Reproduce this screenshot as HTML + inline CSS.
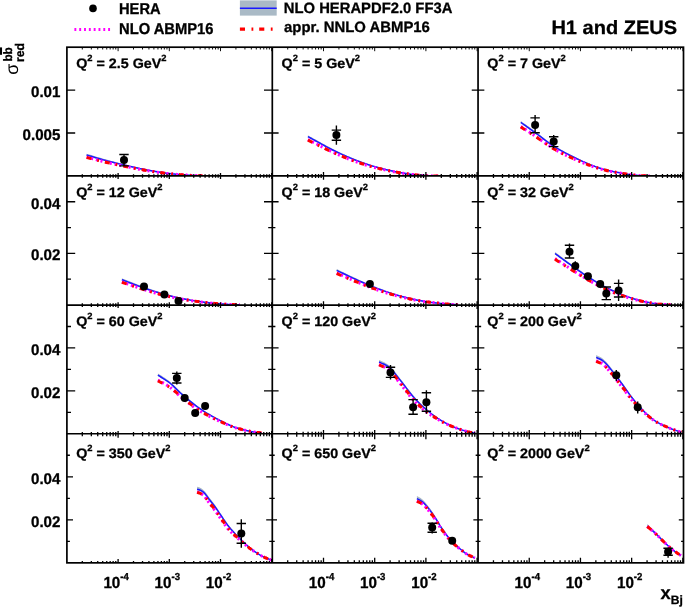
<!DOCTYPE html>
<html><head><meta charset="utf-8"><title>H1 and ZEUS</title>
<style>html,body{margin:0;padding:0;background:#fff;}svg{display:block;will-change:transform;transform:translateZ(0);}text{font-family:"Liberation Sans",sans-serif;font-weight:bold;fill:#000;text-rendering:geometricPrecision;stroke:#000;stroke-width:0.3px;}</style>
</head><body>
<svg width="685" height="609" viewBox="0 0 685 609">
<rect width="685" height="609" fill="#fff"/>
<clipPath id="cp00"><rect x="66.9" y="47.2" width="205.4" height="128.7"/></clipPath>
<clipPath id="cp01"><rect x="272.3" y="47.2" width="205.75" height="128.7"/></clipPath>
<clipPath id="cp02"><rect x="478.05" y="47.2" width="205.45" height="128.7"/></clipPath>
<clipPath id="cp10"><rect x="66.9" y="175.9" width="205.4" height="129.15"/></clipPath>
<clipPath id="cp11"><rect x="272.3" y="175.9" width="205.75" height="129.15"/></clipPath>
<clipPath id="cp12"><rect x="478.05" y="175.9" width="205.45" height="129.15"/></clipPath>
<clipPath id="cp20"><rect x="66.9" y="305.05" width="205.4" height="128.7"/></clipPath>
<clipPath id="cp21"><rect x="272.3" y="305.05" width="205.75" height="128.7"/></clipPath>
<clipPath id="cp22"><rect x="478.05" y="305.05" width="205.45" height="128.7"/></clipPath>
<clipPath id="cp30"><rect x="66.9" y="433.75" width="205.4" height="129.1"/></clipPath>
<clipPath id="cp31"><rect x="272.3" y="433.75" width="205.75" height="129.1"/></clipPath>
<clipPath id="cp32"><rect x="478.05" y="433.75" width="205.45" height="129.1"/></clipPath>
<g clip-path="url(#cp00)">
<path d="M86.6 153.7 L88.13 154.16 L89.67 154.62 L91.2 155.09 L92.73 155.55 L94.27 156.02 L95.8 156.48 L97.33 156.95 L98.87 157.4 L100.4 157.86 L101.93 158.31 L103.47 158.74 L105 159.17 L106.58 159.61 L108.17 160.04 L109.75 160.46 L111.33 160.88 L112.92 161.29 L114.5 161.7 L116.08 162.1 L117.67 162.5 L119.25 162.89 L120.83 163.28 L122.42 163.67 L124 164.05 L125.5 164.42 L127 164.78 L128.5 165.14 L130 165.5 L131.5 165.85 L133 166.21 L134.5 166.55 L136 166.9 L137.5 167.24 L139 167.57 L140.5 167.9 L142 168.23 L143.5 168.54 L145 168.85 L146.54 169.16 L148.08 169.47 L149.62 169.78 L151.15 170.08 L152.69 170.37 L154.23 170.65 L155.77 170.94 L157.31 171.21 L158.85 171.47 L160.38 171.73 L161.92 171.98 L163.46 172.21 L165 172.44 L166.54 172.66 L168.08 172.87 L169.62 173.06 L171.15 173.25 L172.69 173.42 L174.23 173.57 L175.77 173.72 L177.31 173.87 L178.85 174 L180.38 174.14 L181.92 174.26 L183.46 174.38 L185 174.5 L186.54 174.61 L188.08 174.71 L189.62 174.8 L191.15 174.88 L192.69 174.96 L194.23 175.03 L195.77 175.1 L197.31 175.16 L198.85 175.23 L200.38 175.29 L201.92 175.36 L203.46 175.43 L205 175.5 L205 176.5 L203.46 176.43 L201.92 176.36 L200.38 176.29 L198.85 176.23 L197.31 176.16 L195.77 176.1 L194.23 176.03 L192.69 175.96 L191.15 175.88 L189.62 175.8 L188.08 175.71 L186.54 175.61 L185 175.5 L183.46 175.38 L181.92 175.26 L180.38 175.14 L178.85 175 L177.31 174.87 L175.77 174.72 L174.23 174.57 L172.69 174.42 L171.15 174.25 L169.62 174.08 L168.08 173.91 L166.54 173.72 L165 173.52 L163.46 173.31 L161.92 173.09 L160.38 172.87 L158.85 172.63 L157.31 172.38 L155.77 172.13 L154.23 171.87 L152.69 171.6 L151.15 171.33 L149.62 171.05 L148.08 170.77 L146.54 170.48 L145 170.19 L143.5 169.9 L142 169.6 L140.5 169.29 L139 168.98 L137.5 168.67 L136 168.35 L134.5 168.02 L133 167.69 L131.5 167.36 L130 167.02 L128.5 166.68 L127 166.34 L125.5 166 L124 165.66 L122.42 165.29 L120.83 164.92 L119.25 164.55 L117.67 164.18 L116.08 163.8 L114.5 163.42 L112.92 163.03 L111.33 162.64 L109.75 162.25 L108.17 161.84 L106.58 161.43 L105 161.02 L103.47 160.61 L101.93 160.19 L100.4 159.76 L98.87 159.33 L97.33 158.89 L95.8 158.45 L94.27 158 L92.73 157.55 L91.2 157.11 L89.67 156.66 L88.13 156.22 L86.6 155.78 Z" fill="#a9b9c6"/>
<path d="M86.6 155 L88.13 155.44 L89.67 155.89 L91.2 156.34 L92.73 156.79 L94.27 157.25 L95.8 157.7 L97.33 158.14 L98.87 158.59 L100.4 159.03 L101.93 159.46 L103.47 159.88 L105 160.3 L106.58 160.72 L108.17 161.13 L109.75 161.54 L111.33 161.94 L112.92 162.34 L114.5 162.73 L116.08 163.12 L117.67 163.5 L119.25 163.88 L120.83 164.26 L122.42 164.63 L124 165 L125.5 165.35 L127 165.7 L128.5 166.04 L130 166.39 L131.5 166.73 L133 167.07 L134.5 167.4 L136 167.73 L137.5 168.06 L139 168.38 L140.5 168.69 L142 169 L143.5 169.3 L145 169.6 L146.54 169.9 L148.08 170.19 L149.62 170.48 L151.15 170.76 L152.69 171.04 L154.23 171.32 L155.77 171.58 L157.31 171.84 L158.85 172.09 L160.38 172.33 L161.92 172.56 L163.46 172.79 L165 173 L166.54 173.2 L168.08 173.39 L169.62 173.58 L171.15 173.75 L172.69 173.92 L174.23 174.07 L175.77 174.22 L177.31 174.37 L178.85 174.5 L180.38 174.64 L181.92 174.76 L183.46 174.88 L185 175 L186.54 175.11 L188.08 175.21 L189.62 175.3 L191.15 175.38 L192.69 175.46 L194.23 175.53 L195.77 175.6 L197.31 175.66 L198.85 175.73 L200.38 175.79 L201.92 175.86 L203.46 175.93 L205 176" fill="none" stroke="#1a1aff" stroke-width="1.5"/>
<path d="M86.6 157.12 L88.13 157.53 L89.67 157.94 L91.2 158.35 L92.73 158.76 L94.27 159.17 L95.8 159.58 L97.33 159.99 L98.87 160.39 L100.4 160.79 L101.93 161.18 L103.47 161.56 L105 161.94 L106.58 162.32 L108.17 162.69 L109.75 163.06 L111.33 163.42 L112.92 163.77 L114.5 164.13 L116.08 164.47 L117.67 164.81 L119.25 165.15 L120.83 165.49 L122.42 165.82 L124 166.15 L125.5 166.46 L127 166.77 L128.5 167.08 L130 167.39 L131.5 167.69 L133 167.99 L134.5 168.29 L136 168.59 L137.5 168.88 L139 169.17 L140.5 169.45 L142 169.72 L143.5 169.99 L145 170.26 L146.54 170.52 L148.08 170.78 L149.62 171.03 L151.15 171.28 L152.69 171.53 L154.23 171.77 L155.77 172 L157.31 172.22 L158.85 172.45 L160.38 172.66 L161.92 172.87 L163.46 173.07 L165 173.26 L166.54 173.44 L168.08 173.6 L169.62 173.76 L171.15 173.91 L172.69 174.05 L174.23 174.19 L175.77 174.31 L177.31 174.43 L178.85 174.54 L180.38 174.65 L181.92 174.76 L183.46 174.88 L185 175 L186.54 175.11 L188.08 175.21 L189.62 175.3 L191.15 175.38 L192.69 175.46 L194.23 175.53 L195.77 175.6 L197.31 175.66 L198.85 175.73 L200.38 175.79 L201.92 175.86 L203.46 175.93 L205 176" fill="none" stroke="#ff00ff" stroke-width="3" stroke-dasharray="2 2.8"/>
<path d="M86.6 157.5 L88.13 157.88 L89.67 158.27 L91.2 158.66 L92.73 159.05 L94.27 159.44 L95.8 159.83 L97.33 160.21 L98.87 160.6 L100.4 160.97 L101.93 161.34 L103.47 161.71 L105 162.06 L106.58 162.42 L108.17 162.77 L109.75 163.11 L111.33 163.46 L112.92 163.81 L114.5 164.15 L116.08 164.49 L117.67 164.83 L119.25 165.16 L120.83 165.48 L122.42 165.81 L124 166.13 L125.5 166.43 L127 166.74 L128.5 167.04 L130 167.33 L131.5 167.63 L133 167.92 L134.5 168.21 L136 168.51 L137.5 168.8 L139 169.09 L140.5 169.37 L142 169.65 L143.5 169.92 L145 170.18 L146.54 170.44 L148.08 170.7 L149.62 170.96 L151.15 171.21 L152.69 171.45 L154.23 171.69 L155.77 171.92 L157.31 172.15 L158.85 172.37 L160.38 172.6 L161.92 172.81 L163.46 173.01 L165 173.21 L166.54 173.39 L168.08 173.56 L169.62 173.73 L171.15 173.88 L172.69 174.03 L174.23 174.16 L175.77 174.29 L177.31 174.42 L178.85 174.54 L180.38 174.65 L181.92 174.76 L183.46 174.88 L185 175 L186.54 175.11 L188.08 175.21 L189.62 175.3 L191.15 175.38 L192.69 175.46 L194.23 175.53 L195.77 175.6 L197.31 175.66 L198.85 175.73 L200.38 175.79 L201.92 175.86 L203.46 175.93 L205 176" fill="none" stroke="#ff0000" stroke-width="3" stroke-dasharray="5 6 1.8 6"/>
</g>
<g clip-path="url(#cp01)">
<path d="M307.9 135.3 L309.42 136.13 L310.94 136.96 L312.46 137.81 L313.98 138.65 L315.51 139.5 L317.03 140.36 L318.55 141.21 L320.07 142.06 L321.59 142.91 L323.11 143.76 L324.63 144.6 L326.15 145.43 L327.67 146.25 L329.19 147.07 L330.72 147.87 L332.24 148.66 L333.76 149.44 L335.28 150.2 L336.8 150.95 L338.34 151.68 L339.88 152.41 L341.42 153.13 L342.96 153.85 L344.51 154.55 L346.05 155.23 L347.59 155.91 L349.13 156.58 L350.67 157.24 L352.21 157.88 L353.75 158.52 L355.29 159.14 L356.84 159.75 L358.38 160.35 L359.92 160.93 L361.46 161.51 L363 162.07 L364.55 162.62 L366.09 163.15 L367.64 163.67 L369.19 164.18 L370.74 164.68 L372.28 165.16 L373.83 165.64 L375.38 166.1 L376.92 166.55 L378.47 166.99 L380.02 167.41 L381.56 167.83 L383.11 168.24 L384.66 168.64 L386.21 169.03 L387.75 169.42 L389.3 169.79 L390.81 170.15 L392.33 170.49 L393.84 170.81 L395.35 171.13 L396.87 171.43 L398.38 171.73 L399.89 172.01 L401.41 172.28 L402.92 172.54 L404.43 172.79 L405.95 173.02 L407.46 173.25 L408.97 173.47 L410.49 173.69 L412 173.9 L413.57 174.11 L415.14 174.3 L416.71 174.47 L418.29 174.62 L419.86 174.76 L421.43 174.89 L423 175 L424.55 175.1 L426.09 175.18 L427.64 175.24 L429.18 175.3 L430.73 175.35 L432.27 175.39 L433.82 175.43 L435.36 175.47 L436.91 175.51 L438.45 175.55 L440 175.6 L440 176.6 L438.45 176.55 L436.91 176.51 L435.36 176.47 L433.82 176.43 L432.27 176.39 L430.73 176.35 L429.18 176.3 L427.64 176.24 L426.09 176.18 L424.55 176.1 L423 176 L421.43 175.89 L419.86 175.76 L418.29 175.62 L416.71 175.47 L415.14 175.3 L413.57 175.11 L412 174.9 L410.49 174.69 L408.97 174.47 L407.46 174.25 L405.95 174.02 L404.43 173.79 L402.92 173.54 L401.41 173.29 L399.89 173.04 L398.38 172.77 L396.87 172.5 L395.35 172.21 L393.84 171.91 L392.33 171.6 L390.81 171.28 L389.3 170.94 L387.75 170.58 L386.21 170.22 L384.66 169.84 L383.11 169.46 L381.56 169.07 L380.02 168.67 L378.47 168.26 L376.92 167.84 L375.38 167.4 L373.83 166.96 L372.28 166.51 L370.74 166.04 L369.19 165.56 L367.64 165.07 L366.09 164.56 L364.55 164.05 L363 163.52 L361.46 162.97 L359.92 162.42 L358.38 161.85 L356.84 161.27 L355.29 160.68 L353.75 160.07 L352.21 159.46 L350.67 158.83 L349.13 158.19 L347.59 157.54 L346.05 156.88 L344.51 156.21 L342.96 155.52 L341.42 154.83 L339.88 154.13 L338.34 153.42 L336.8 152.69 L335.28 151.97 L333.76 151.22 L332.24 150.47 L330.72 149.69 L329.19 148.91 L327.67 148.11 L326.15 147.3 L324.63 146.48 L323.11 145.66 L321.59 144.83 L320.07 144 L318.55 143.17 L317.03 142.33 L315.51 141.5 L313.98 140.66 L312.46 139.83 L310.94 139.01 L309.42 138.19 L307.9 137.38 Z" fill="#a9b9c6"/>
<path d="M307.9 136.6 L309.42 137.41 L310.94 138.24 L312.46 139.07 L313.98 139.9 L315.51 140.74 L317.03 141.58 L318.55 142.42 L320.07 143.26 L321.59 144.09 L323.11 144.93 L324.63 145.75 L326.15 146.57 L327.67 147.39 L329.19 148.19 L330.72 148.98 L332.24 149.76 L333.76 150.52 L335.28 151.27 L336.8 152 L338.34 152.73 L339.88 153.44 L341.42 154.15 L342.96 154.85 L344.51 155.53 L346.05 156.21 L347.59 156.88 L349.13 157.53 L350.67 158.18 L352.21 158.81 L353.75 159.43 L355.29 160.04 L356.84 160.64 L358.38 161.22 L359.92 161.79 L361.46 162.35 L363 162.9 L364.55 163.44 L366.09 163.96 L367.64 164.47 L369.19 164.96 L370.74 165.45 L372.28 165.92 L373.83 166.38 L375.38 166.82 L376.92 167.26 L378.47 167.69 L380.02 168.1 L381.56 168.51 L383.11 168.91 L384.66 169.29 L386.21 169.67 L387.75 170.04 L389.3 170.4 L390.81 170.74 L392.33 171.07 L393.84 171.39 L395.35 171.69 L396.87 171.98 L398.38 172.26 L399.89 172.53 L401.41 172.79 L402.92 173.04 L404.43 173.29 L405.95 173.52 L407.46 173.75 L408.97 173.97 L410.49 174.19 L412 174.4 L413.57 174.61 L415.14 174.8 L416.71 174.97 L418.29 175.12 L419.86 175.26 L421.43 175.39 L423 175.5 L424.55 175.6 L426.09 175.68 L427.64 175.74 L429.18 175.8 L430.73 175.85 L432.27 175.89 L433.82 175.93 L435.36 175.97 L436.91 176.01 L438.45 176.05 L440 176.1" fill="none" stroke="#1a1aff" stroke-width="1.5"/>
<path d="M307.9 139.57 L309.42 140.34 L310.94 141.11 L312.46 141.89 L313.98 142.67 L315.51 143.46 L317.03 144.25 L318.55 145.04 L320.07 145.83 L321.59 146.62 L323.11 147.4 L324.63 148.17 L326.15 148.94 L327.67 149.71 L329.19 150.46 L330.72 151.2 L332.24 151.93 L333.76 152.64 L335.28 153.34 L336.8 154.02 L338.34 154.7 L339.88 155.37 L341.42 156.02 L342.96 156.67 L344.51 157.31 L346.05 157.94 L347.59 158.56 L349.13 159.16 L350.67 159.76 L352.21 160.34 L353.75 160.91 L355.29 161.47 L356.84 162.02 L358.38 162.56 L359.92 163.08 L361.46 163.59 L363 164.1 L364.55 164.59 L366.09 165.07 L367.64 165.53 L369.19 165.99 L370.74 166.43 L372.28 166.86 L373.83 167.27 L375.38 167.68 L376.92 168.07 L378.47 168.45 L380.02 168.83 L381.56 169.19 L383.11 169.54 L384.66 169.89 L386.21 170.22 L387.75 170.55 L389.3 170.88 L390.81 171.19 L392.33 171.49 L393.84 171.78 L395.35 172.05 L396.87 172.31 L398.38 172.56 L399.89 172.8 L401.41 173.03 L402.92 173.26 L404.43 173.47 L405.95 173.67 L407.46 173.87 L408.97 174.06 L410.49 174.25 L412 174.43 L413.57 174.61 L415.14 174.8 L416.71 174.97 L418.29 175.12 L419.86 175.26 L421.43 175.39 L423 175.5 L424.55 175.6 L426.09 175.68 L427.64 175.74 L429.18 175.8 L430.73 175.85 L432.27 175.89 L433.82 175.93 L435.36 175.97 L436.91 176.01 L438.45 176.05 L440 176.1" fill="none" stroke="#ff00ff" stroke-width="3" stroke-dasharray="2 2.8"/>
<path d="M307.9 140.1 L309.42 140.84 L310.94 141.58 L312.46 142.34 L313.98 143.09 L315.51 143.86 L317.03 144.62 L318.55 145.38 L320.07 146.14 L321.59 146.9 L323.11 147.66 L324.63 148.41 L326.15 149.16 L327.67 149.89 L329.19 150.62 L330.72 151.33 L332.24 152.03 L333.76 152.72 L335.28 153.4 L336.8 154.07 L338.34 154.74 L339.88 155.4 L341.42 156.05 L342.96 156.69 L344.51 157.31 L346.05 157.93 L347.59 158.54 L349.13 159.13 L350.67 159.72 L352.21 160.29 L353.75 160.85 L355.29 161.4 L356.84 161.94 L358.38 162.47 L359.92 162.98 L361.46 163.49 L363 163.99 L364.55 164.48 L366.09 164.96 L367.64 165.43 L369.19 165.88 L370.74 166.32 L372.28 166.75 L373.83 167.17 L375.38 167.57 L376.92 167.97 L378.47 168.35 L380.02 168.72 L381.56 169.08 L383.11 169.44 L384.66 169.78 L386.21 170.12 L387.75 170.45 L389.3 170.79 L390.81 171.1 L392.33 171.41 L393.84 171.7 L395.35 171.98 L396.87 172.25 L398.38 172.5 L399.89 172.75 L401.41 172.99 L402.92 173.21 L404.43 173.43 L405.95 173.64 L407.46 173.85 L408.97 174.05 L410.49 174.24 L412 174.43 L413.57 174.61 L415.14 174.8 L416.71 174.97 L418.29 175.12 L419.86 175.26 L421.43 175.39 L423 175.5 L424.55 175.6 L426.09 175.68 L427.64 175.74 L429.18 175.8 L430.73 175.85 L432.27 175.89 L433.82 175.93 L435.36 175.97 L436.91 176.01 L438.45 176.05 L440 176.1" fill="none" stroke="#ff0000" stroke-width="3" stroke-dasharray="5 6 1.8 6"/>
</g>
<g clip-path="url(#cp02)">
<path d="M520.8 121 L522.36 122.13 L523.91 123.25 L525.47 124.37 L527.02 125.49 L528.58 126.62 L530.13 127.74 L531.69 128.87 L533.24 130 L534.8 131.14 L536.4 132.32 L538 133.53 L539.6 134.75 L541.2 135.98 L542.8 137.21 L544.4 138.44 L546 139.66 L547.6 140.85 L549.2 142.03 L550.8 143.17 L552.4 144.27 L554 145.32 L555.52 146.29 L557.04 147.23 L558.56 148.15 L560.08 149.05 L561.6 149.93 L563.12 150.79 L564.64 151.63 L566.16 152.45 L567.68 153.26 L569.2 154.05 L570.72 154.83 L572.24 155.6 L573.76 156.36 L575.28 157.11 L576.8 157.85 L578.35 158.59 L579.89 159.33 L581.44 160.05 L582.99 160.77 L584.53 161.47 L586.08 162.16 L587.63 162.83 L589.17 163.49 L590.72 164.13 L592.27 164.75 L593.81 165.36 L595.36 165.94 L596.91 166.51 L598.45 167.05 L600 167.57 L601.52 168.06 L603.04 168.52 L604.56 168.95 L606.08 169.36 L607.6 169.75 L609.12 170.13 L610.64 170.48 L612.16 170.83 L613.68 171.15 L615.2 171.46 L616.72 171.75 L618.24 172.04 L619.76 172.33 L621.28 172.62 L622.8 172.9 L624.32 173.18 L625.85 173.44 L627.38 173.69 L628.9 173.93 L630.42 174.15 L631.95 174.35 L633.48 174.53 L635 174.7 L636.5 174.84 L638 174.96 L639.5 175.07 L641 175.15 L642.5 175.23 L644 175.3 L645.5 175.37 L647 175.44 L648.5 175.52 L650 175.6 L650 176.6 L648.5 176.52 L647 176.44 L645.5 176.37 L644 176.3 L642.5 176.23 L641 176.15 L639.5 176.07 L638 175.96 L636.5 175.84 L635 175.7 L633.48 175.53 L631.95 175.35 L630.42 175.15 L628.9 174.93 L627.38 174.69 L625.85 174.44 L624.32 174.18 L622.8 173.9 L621.28 173.62 L619.76 173.33 L618.24 173.04 L616.72 172.75 L615.2 172.46 L613.68 172.15 L612.16 171.84 L610.64 171.52 L609.12 171.18 L607.6 170.83 L606.08 170.46 L604.56 170.06 L603.04 169.65 L601.52 169.21 L600 168.74 L598.45 168.25 L596.91 167.72 L595.36 167.18 L593.81 166.61 L592.27 166.03 L590.72 165.42 L589.17 164.8 L587.63 164.16 L586.08 163.51 L584.53 162.84 L582.99 162.16 L581.44 161.47 L579.89 160.76 L578.35 160.05 L576.8 159.32 L575.28 158.6 L573.76 157.88 L572.24 157.14 L570.72 156.39 L569.2 155.63 L567.68 154.86 L566.16 154.07 L564.64 153.26 L563.12 152.44 L561.6 151.61 L560.08 150.75 L558.56 149.87 L557.04 148.97 L555.52 148.05 L554 147.1 L552.4 146.07 L550.8 144.99 L549.2 143.87 L547.6 142.72 L546 141.54 L544.4 140.34 L542.8 139.14 L541.2 137.93 L539.6 136.72 L538 135.52 L536.4 134.33 L534.8 133.17 L533.24 132.05 L531.69 130.94 L530.13 129.83 L528.58 128.73 L527.02 127.63 L525.47 126.52 L523.91 125.42 L522.36 124.32 L520.8 123.22 Z" fill="#a9b9c6"/>
<path d="M520.8 122.4 L522.36 123.51 L523.91 124.62 L525.47 125.73 L527.02 126.83 L528.58 127.94 L530.13 129.05 L531.69 130.16 L533.24 131.28 L534.8 132.4 L536.4 133.57 L538 134.76 L539.6 135.97 L541.2 137.18 L542.8 138.4 L544.4 139.61 L546 140.81 L547.6 141.99 L549.2 143.15 L550.8 144.27 L552.4 145.36 L554 146.4 L555.52 147.35 L557.04 148.28 L558.56 149.18 L560.08 150.07 L561.6 150.93 L563.12 151.77 L564.64 152.6 L566.16 153.41 L567.68 154.2 L569.2 154.98 L570.72 155.75 L572.24 156.5 L573.76 157.24 L575.28 157.98 L576.8 158.7 L578.35 159.43 L579.89 160.15 L581.44 160.86 L582.99 161.56 L584.53 162.25 L586.08 162.92 L587.63 163.58 L589.17 164.22 L590.72 164.85 L592.27 165.46 L593.81 166.05 L595.36 166.62 L596.91 167.17 L598.45 167.7 L600 168.2 L601.52 168.67 L603.04 169.11 L604.56 169.53 L606.08 169.93 L607.6 170.31 L609.12 170.67 L610.64 171.01 L612.16 171.34 L613.68 171.65 L615.2 171.96 L616.72 172.25 L618.24 172.54 L619.76 172.83 L621.28 173.12 L622.8 173.4 L624.32 173.68 L625.85 173.94 L627.38 174.19 L628.9 174.43 L630.42 174.65 L631.95 174.85 L633.48 175.03 L635 175.2 L636.5 175.34 L638 175.46 L639.5 175.57 L641 175.65 L642.5 175.73 L644 175.8 L645.5 175.87 L647 175.94 L648.5 176.02 L650 176.1" fill="none" stroke="#1a1aff" stroke-width="1.5"/>
<path d="M520.8 126.4 L522.36 127.43 L523.91 128.47 L525.47 129.51 L527.02 130.55 L528.58 131.58 L530.13 132.62 L531.69 133.66 L533.24 134.71 L534.8 135.76 L536.4 136.85 L538 137.97 L539.6 139.11 L541.2 140.25 L542.8 141.39 L544.4 142.53 L546 143.66 L547.6 144.77 L549.2 145.86 L550.8 146.91 L552.4 147.93 L554 148.9 L555.52 149.78 L557.04 150.65 L558.56 151.48 L560.08 152.3 L561.6 153.1 L563.12 153.87 L564.64 154.63 L566.16 155.38 L567.68 156.1 L569.2 156.81 L570.72 157.51 L572.24 158.2 L573.76 158.88 L575.28 159.56 L576.8 160.23 L578.35 160.9 L579.89 161.56 L581.44 162.21 L582.99 162.85 L584.53 163.48 L586.08 164.09 L587.63 164.69 L589.17 165.28 L590.72 165.84 L592.27 166.39 L593.81 166.92 L595.36 167.44 L596.91 167.93 L598.45 168.4 L600 168.86 L601.52 169.29 L603.04 169.69 L604.56 170.07 L606.08 170.42 L607.6 170.76 L609.12 171.08 L610.64 171.38 L612.16 171.66 L613.68 171.94 L615.2 172.2 L616.72 172.46 L618.24 172.71 L619.76 172.95 L621.28 173.19 L622.8 173.44 L624.32 173.68 L625.85 173.94 L627.38 174.19 L628.9 174.43 L630.42 174.65 L631.95 174.85 L633.48 175.03 L635 175.2 L636.5 175.34 L638 175.46 L639.5 175.57 L641 175.65 L642.5 175.73 L644 175.8 L645.5 175.87 L647 175.94 L648.5 176.02 L650 176.1" fill="none" stroke="#ff00ff" stroke-width="3" stroke-dasharray="2 2.8"/>
<path d="M520.8 127.1 L522.36 128.1 L523.91 129.1 L525.47 130.1 L527.02 131.1 L528.58 132.1 L530.13 133.11 L531.69 134.11 L533.24 135.12 L534.8 136.13 L536.4 137.19 L538 138.27 L539.6 139.37 L541.2 140.47 L542.8 141.58 L544.4 142.68 L546 143.77 L547.6 144.86 L549.2 145.93 L550.8 146.97 L552.4 147.97 L554 148.93 L555.52 149.8 L557.04 150.64 L558.56 151.47 L560.08 152.27 L561.6 153.06 L563.12 153.82 L564.64 154.56 L566.16 155.29 L567.68 156.01 L569.2 156.7 L570.72 157.39 L572.24 158.06 L573.76 158.74 L575.28 159.42 L576.8 160.09 L578.35 160.76 L579.89 161.42 L581.44 162.07 L582.99 162.71 L584.53 163.34 L586.08 163.95 L587.63 164.55 L589.17 165.13 L590.72 165.7 L592.27 166.25 L593.81 166.78 L595.36 167.29 L596.91 167.79 L598.45 168.26 L600 168.73 L601.52 169.16 L603.04 169.58 L604.56 169.96 L606.08 170.33 L607.6 170.67 L609.12 170.99 L610.64 171.3 L612.16 171.6 L613.68 171.88 L615.2 172.15 L616.72 172.42 L618.24 172.67 L619.76 172.93 L621.28 173.18 L622.8 173.43 L624.32 173.68 L625.85 173.94 L627.38 174.19 L628.9 174.43 L630.42 174.65 L631.95 174.85 L633.48 175.03 L635 175.2 L636.5 175.34 L638 175.46 L639.5 175.57 L641 175.65 L642.5 175.73 L644 175.8 L645.5 175.87 L647 175.94 L648.5 176.02 L650 176.1" fill="none" stroke="#ff0000" stroke-width="3" stroke-dasharray="5 6 1.8 6"/>
</g>
<g clip-path="url(#cp10)">
<path d="M121.9 278.3 L123.46 278.91 L125.03 279.52 L126.59 280.13 L128.16 280.75 L129.72 281.37 L131.29 281.98 L132.85 282.6 L134.41 283.21 L135.98 283.82 L137.54 284.42 L139.11 285.01 L140.67 285.6 L142.24 286.17 L143.8 286.73 L145.3 287.26 L146.8 287.79 L148.3 288.31 L149.8 288.83 L151.3 289.34 L152.8 289.84 L154.3 290.34 L155.8 290.83 L157.3 291.31 L158.8 291.78 L160.3 292.24 L161.8 292.69 L163.3 293.13 L164.8 293.56 L166.3 293.98 L167.8 294.39 L169.3 294.78 L170.8 295.18 L172.3 295.56 L173.8 295.93 L175.3 296.29 L176.8 296.65 L178.3 296.99 L179.8 297.33 L181.3 297.65 L182.8 297.97 L184.3 298.28 L185.8 298.58 L187.34 298.88 L188.88 299.17 L190.42 299.45 L191.96 299.73 L193.51 299.99 L195.05 300.25 L196.59 300.5 L198.13 300.75 L199.67 300.98 L201.21 301.21 L202.75 301.44 L204.29 301.65 L205.84 301.86 L207.38 302.06 L208.92 302.24 L210.46 302.42 L212 302.6 L213.5 302.76 L215 302.91 L216.5 303.05 L218 303.18 L219.5 303.3 L221 303.41 L222.5 303.52 L224 303.62 L225.5 303.71 L227 303.8 L228.62 303.89 L230.25 303.96 L231.88 304.03 L233.5 304.08 L235.12 304.14 L236.75 304.19 L238.38 304.24 L240 304.3 L240 305.3 L238.38 305.24 L236.75 305.19 L235.12 305.14 L233.5 305.08 L231.88 305.03 L230.25 304.96 L228.62 304.89 L227 304.8 L225.5 304.71 L224 304.62 L222.5 304.52 L221 304.41 L219.5 304.3 L218 304.18 L216.5 304.05 L215 303.91 L213.5 303.76 L212 303.6 L210.46 303.42 L208.92 303.24 L207.38 303.06 L205.84 302.87 L204.29 302.68 L202.75 302.49 L201.21 302.28 L199.67 302.08 L198.13 301.86 L196.59 301.64 L195.05 301.41 L193.51 301.18 L191.96 300.93 L190.42 300.68 L188.88 300.42 L187.34 300.15 L185.8 299.88 L184.3 299.6 L182.8 299.31 L181.3 299.01 L179.8 298.71 L178.3 298.39 L176.8 298.07 L175.3 297.74 L173.8 297.4 L172.3 297.05 L170.8 296.69 L169.3 296.32 L167.8 295.94 L166.3 295.55 L164.8 295.15 L163.3 294.75 L161.8 294.33 L160.3 293.9 L158.8 293.46 L157.3 293.01 L155.8 292.55 L154.3 292.09 L152.8 291.61 L151.3 291.13 L149.8 290.64 L148.3 290.15 L146.8 289.65 L145.3 289.14 L143.8 288.63 L142.24 288.09 L140.67 287.54 L139.11 286.98 L137.54 286.41 L135.98 285.83 L134.41 285.25 L132.85 284.66 L131.29 284.06 L129.72 283.47 L128.16 282.87 L126.59 282.28 L125.03 281.69 L123.46 281.1 L121.9 280.51 Z" fill="#a9b9c6"/>
<path d="M121.9 279.7 L123.46 280.29 L125.03 280.88 L126.59 281.48 L128.16 282.08 L129.72 282.68 L131.29 283.28 L132.85 283.88 L134.41 284.48 L135.98 285.07 L137.54 285.65 L139.11 286.23 L140.67 286.8 L142.24 287.35 L143.8 287.9 L145.3 288.41 L146.8 288.92 L148.3 289.43 L149.8 289.93 L151.3 290.42 L152.8 290.91 L154.3 291.39 L155.8 291.86 L157.3 292.33 L158.8 292.78 L160.3 293.23 L161.8 293.66 L163.3 294.09 L164.8 294.5 L166.3 294.9 L167.8 295.3 L169.3 295.68 L170.8 296.05 L172.3 296.42 L173.8 296.78 L175.3 297.12 L176.8 297.46 L178.3 297.79 L179.8 298.11 L181.3 298.42 L182.8 298.72 L184.3 299.02 L185.8 299.3 L187.34 299.58 L188.88 299.86 L190.42 300.12 L191.96 300.38 L193.51 300.63 L195.05 300.87 L196.59 301.11 L198.13 301.33 L199.67 301.55 L201.21 301.77 L202.75 301.97 L204.29 302.17 L205.84 302.37 L207.38 302.56 L208.92 302.74 L210.46 302.92 L212 303.1 L213.5 303.26 L215 303.41 L216.5 303.55 L218 303.68 L219.5 303.8 L221 303.91 L222.5 304.02 L224 304.12 L225.5 304.21 L227 304.3 L228.62 304.39 L230.25 304.46 L231.88 304.53 L233.5 304.58 L235.12 304.64 L236.75 304.69 L238.38 304.74 L240 304.8" fill="none" stroke="#1a1aff" stroke-width="1.5"/>
<path d="M121.9 281.91 L123.46 282.46 L125.03 283.01 L126.59 283.56 L128.16 284.12 L129.72 284.68 L131.29 285.24 L132.85 285.79 L134.41 286.34 L135.98 286.89 L137.54 287.43 L139.11 287.97 L140.67 288.49 L142.24 289.01 L143.8 289.51 L145.3 289.98 L146.8 290.45 L148.3 290.92 L149.8 291.38 L151.3 291.83 L152.8 292.28 L154.3 292.72 L155.8 293.15 L157.3 293.58 L158.8 293.99 L160.3 294.4 L161.8 294.79 L163.3 295.18 L164.8 295.55 L166.3 295.91 L167.8 296.27 L169.3 296.61 L170.8 296.95 L172.3 297.28 L173.8 297.6 L175.3 297.92 L176.8 298.22 L178.3 298.51 L179.8 298.8 L181.3 299.07 L182.8 299.34 L184.3 299.6 L185.8 299.85 L187.34 300.1 L188.88 300.34 L190.42 300.57 L191.96 300.79 L193.51 301.01 L195.05 301.22 L196.59 301.43 L198.13 301.63 L199.67 301.83 L201.21 302.02 L202.75 302.2 L204.29 302.37 L205.84 302.54 L207.38 302.71 L208.92 302.87 L210.46 303.02 L212 303.17 L213.5 303.31 L215 303.44 L216.5 303.55 L218 303.68 L219.5 303.8 L221 303.91 L222.5 304.02 L224 304.12 L225.5 304.21 L227 304.3 L228.62 304.39 L230.25 304.46 L231.88 304.53 L233.5 304.58 L235.12 304.64 L236.75 304.69 L238.38 304.74 L240 304.8" fill="none" stroke="#ff00ff" stroke-width="3" stroke-dasharray="2 2.8"/>
<path d="M121.9 282.3 L123.46 282.82 L125.03 283.35 L126.59 283.88 L128.16 284.42 L129.72 284.96 L131.29 285.49 L132.85 286.02 L134.41 286.55 L135.98 287.08 L137.54 287.6 L139.11 288.11 L140.67 288.61 L142.24 289.1 L143.8 289.58 L145.3 290.04 L146.8 290.5 L148.3 290.95 L149.8 291.41 L151.3 291.85 L152.8 292.29 L154.3 292.72 L155.8 293.15 L157.3 293.56 L158.8 293.97 L160.3 294.37 L161.8 294.75 L163.3 295.13 L164.8 295.5 L166.3 295.85 L167.8 296.2 L169.3 296.53 L170.8 296.87 L172.3 297.2 L173.8 297.53 L175.3 297.84 L176.8 298.14 L178.3 298.44 L179.8 298.72 L181.3 299 L182.8 299.26 L184.3 299.52 L185.8 299.77 L187.34 300.02 L188.88 300.26 L190.42 300.49 L191.96 300.71 L193.51 300.93 L195.05 301.15 L196.59 301.37 L198.13 301.57 L199.67 301.77 L201.21 301.97 L202.75 302.15 L204.29 302.33 L205.84 302.51 L207.38 302.68 L208.92 302.84 L210.46 303 L212 303.16 L213.5 303.3 L215 303.43 L216.5 303.55 L218 303.68 L219.5 303.8 L221 303.91 L222.5 304.02 L224 304.12 L225.5 304.21 L227 304.3 L228.62 304.39 L230.25 304.46 L231.88 304.53 L233.5 304.58 L235.12 304.64 L236.75 304.69 L238.38 304.74 L240 304.8" fill="none" stroke="#ff0000" stroke-width="3" stroke-dasharray="5 6 1.8 6"/>
</g>
<g clip-path="url(#cp11)">
<path d="M336.7 269 L338.22 269.73 L339.74 270.47 L341.26 271.21 L342.79 271.95 L344.31 272.69 L345.83 273.43 L347.35 274.17 L348.87 274.91 L350.39 275.64 L351.91 276.37 L353.44 277.1 L354.96 277.81 L356.48 278.52 L358 279.22 L359.59 279.95 L361.18 280.67 L362.77 281.39 L364.36 282.1 L365.95 282.8 L367.55 283.5 L369.14 284.19 L370.73 284.86 L372.32 285.52 L373.91 286.17 L375.5 286.8 L377.01 287.39 L378.51 287.97 L380.02 288.54 L381.53 289.11 L383.04 289.67 L384.54 290.21 L386.05 290.75 L387.56 291.28 L389.06 291.8 L390.57 292.3 L392.08 292.8 L393.59 293.29 L395.09 293.76 L396.6 294.22 L398.11 294.67 L399.63 295.12 L401.14 295.55 L402.65 295.98 L404.17 296.39 L405.68 296.79 L407.19 297.19 L408.71 297.57 L410.22 297.94 L411.73 298.31 L413.25 298.66 L414.76 299 L416.27 299.33 L417.79 299.65 L419.3 299.96 L420.81 300.25 L422.33 300.53 L423.84 300.8 L425.35 301.04 L426.87 301.26 L428.38 301.48 L429.89 301.69 L431.41 301.89 L432.92 302.08 L434.43 302.26 L435.95 302.44 L437.46 302.61 L438.97 302.78 L440.49 302.94 L442 303.1 L443.6 303.26 L445.2 303.4 L446.8 303.53 L448.4 303.65 L450 303.76 L451.6 303.87 L453.2 303.97 L454.8 304.08 L456.4 304.18 L458 304.3 L458 305.3 L456.4 305.18 L454.8 305.08 L453.2 304.97 L451.6 304.87 L450 304.76 L448.4 304.65 L446.8 304.53 L445.2 304.4 L443.6 304.26 L442 304.1 L440.49 303.94 L438.97 303.78 L437.46 303.61 L435.95 303.44 L434.43 303.26 L432.92 303.08 L431.41 302.89 L429.89 302.69 L428.38 302.48 L426.87 302.26 L425.35 302.04 L423.84 301.8 L422.33 301.55 L420.81 301.29 L419.3 301.01 L417.79 300.73 L416.27 300.43 L414.76 300.12 L413.25 299.8 L411.73 299.47 L410.22 299.13 L408.71 298.78 L407.19 298.41 L405.68 298.04 L404.17 297.66 L402.65 297.27 L401.14 296.86 L399.63 296.45 L398.11 296.03 L396.6 295.6 L395.09 295.16 L393.59 294.7 L392.08 294.24 L390.57 293.76 L389.06 293.28 L387.56 292.78 L386.05 292.27 L384.54 291.76 L383.04 291.23 L381.53 290.7 L380.02 290.15 L378.51 289.6 L377.01 289.04 L375.5 288.47 L373.91 287.86 L372.32 287.24 L370.73 286.6 L369.14 285.95 L367.55 285.28 L365.95 284.61 L364.36 283.93 L362.77 283.24 L361.18 282.54 L359.59 281.84 L358 281.14 L356.48 280.46 L354.96 279.77 L353.44 279.08 L351.91 278.37 L350.39 277.67 L348.87 276.95 L347.35 276.24 L345.83 275.52 L344.31 274.8 L342.79 274.08 L341.26 273.36 L339.74 272.64 L338.22 271.93 L336.7 271.21 Z" fill="#a9b9c6"/>
<path d="M336.7 270.4 L338.22 271.12 L339.74 271.84 L341.26 272.56 L342.79 273.29 L344.31 274.01 L345.83 274.74 L347.35 275.46 L348.87 276.18 L350.39 276.9 L351.91 277.62 L353.44 278.32 L354.96 279.02 L356.48 279.72 L358 280.4 L359.59 281.11 L361.18 281.81 L362.77 282.52 L364.36 283.21 L365.95 283.9 L367.55 284.58 L369.14 285.25 L370.73 285.91 L372.32 286.55 L373.91 287.18 L375.5 287.8 L377.01 288.37 L378.51 288.94 L380.02 289.49 L381.53 290.04 L383.04 290.58 L384.54 291.12 L386.05 291.64 L387.56 292.15 L389.06 292.65 L390.57 293.15 L392.08 293.63 L393.59 294.1 L395.09 294.55 L396.6 295 L398.11 295.44 L399.63 295.86 L401.14 296.28 L402.65 296.69 L404.17 297.09 L405.68 297.48 L407.19 297.86 L408.71 298.22 L410.22 298.58 L411.73 298.93 L413.25 299.26 L414.76 299.59 L416.27 299.9 L417.79 300.21 L419.3 300.5 L420.81 300.78 L422.33 301.04 L423.84 301.3 L425.35 301.54 L426.87 301.76 L428.38 301.98 L429.89 302.19 L431.41 302.39 L432.92 302.58 L434.43 302.76 L435.95 302.94 L437.46 303.11 L438.97 303.28 L440.49 303.44 L442 303.6 L443.6 303.76 L445.2 303.9 L446.8 304.03 L448.4 304.15 L450 304.26 L451.6 304.37 L453.2 304.47 L454.8 304.58 L456.4 304.68 L458 304.8" fill="none" stroke="#1a1aff" stroke-width="1.5"/>
<path d="M336.7 273.03 L338.22 273.7 L339.74 274.38 L341.26 275.05 L342.79 275.73 L344.31 276.4 L345.83 277.08 L347.35 277.76 L348.87 278.43 L350.39 279.1 L351.91 279.76 L353.44 280.42 L354.96 281.08 L356.48 281.72 L358 282.35 L359.59 283.01 L361.18 283.67 L362.77 284.32 L364.36 284.97 L365.95 285.61 L367.55 286.24 L369.14 286.86 L370.73 287.47 L372.32 288.06 L373.91 288.65 L375.5 289.21 L377.01 289.74 L378.51 290.26 L380.02 290.77 L381.53 291.27 L383.04 291.77 L384.54 292.25 L386.05 292.73 L387.56 293.2 L389.06 293.67 L390.57 294.12 L392.08 294.56 L393.59 294.99 L395.09 295.41 L396.6 295.81 L398.11 296.21 L399.63 296.59 L401.14 296.97 L402.65 297.34 L404.17 297.7 L405.68 298.04 L407.19 298.38 L408.71 298.71 L410.22 299.03 L411.73 299.35 L413.25 299.66 L414.76 299.95 L416.27 300.24 L417.79 300.51 L419.3 300.78 L420.81 301.03 L422.33 301.26 L423.84 301.49 L425.35 301.7 L426.87 301.89 L428.38 302.08 L429.89 302.26 L431.41 302.43 L432.92 302.59 L434.43 302.76 L435.95 302.94 L437.46 303.11 L438.97 303.28 L440.49 303.44 L442 303.6 L443.6 303.76 L445.2 303.9 L446.8 304.03 L448.4 304.15 L450 304.26 L451.6 304.37 L453.2 304.47 L454.8 304.58 L456.4 304.68 L458 304.8" fill="none" stroke="#ff00ff" stroke-width="3" stroke-dasharray="2 2.8"/>
<path d="M336.7 273.5 L338.22 274.14 L339.74 274.79 L341.26 275.44 L342.79 276.09 L344.31 276.74 L345.83 277.39 L347.35 278.04 L348.87 278.69 L350.39 279.34 L351.91 279.98 L353.44 280.61 L354.96 281.24 L356.48 281.86 L358 282.47 L359.59 283.1 L361.18 283.73 L362.77 284.37 L364.36 285.01 L365.95 285.64 L367.55 286.26 L369.14 286.87 L370.73 287.47 L372.32 288.05 L373.91 288.63 L375.5 289.18 L377.01 289.7 L378.51 290.21 L380.02 290.71 L381.53 291.2 L383.04 291.69 L384.54 292.16 L386.05 292.64 L387.56 293.11 L389.06 293.57 L390.57 294.02 L392.08 294.47 L393.59 294.89 L395.09 295.31 L396.6 295.72 L398.11 296.11 L399.63 296.5 L401.14 296.88 L402.65 297.25 L404.17 297.6 L405.68 297.95 L407.19 298.29 L408.71 298.62 L410.22 298.94 L411.73 299.27 L413.25 299.58 L414.76 299.88 L416.27 300.17 L417.79 300.45 L419.3 300.72 L420.81 300.98 L422.33 301.22 L423.84 301.45 L425.35 301.66 L426.87 301.87 L428.38 302.06 L429.89 302.25 L431.41 302.42 L432.92 302.59 L434.43 302.76 L435.95 302.94 L437.46 303.11 L438.97 303.28 L440.49 303.44 L442 303.6 L443.6 303.76 L445.2 303.9 L446.8 304.03 L448.4 304.15 L450 304.26 L451.6 304.37 L453.2 304.47 L454.8 304.58 L456.4 304.68 L458 304.8" fill="none" stroke="#ff0000" stroke-width="3" stroke-dasharray="5 6 1.8 6"/>
</g>
<g clip-path="url(#cp12)">
<path d="M555 252 L556.5 253.11 L558 254.23 L559.5 255.35 L561 256.47 L562.5 257.59 L564 258.71 L565.5 259.83 L567 260.94 L568.5 262.05 L570 263.15 L571.5 264.24 L573 265.32 L574.59 266.45 L576.18 267.59 L577.77 268.73 L579.36 269.86 L580.95 270.98 L582.55 272.1 L584.14 273.2 L585.73 274.28 L587.32 275.35 L588.91 276.4 L590.5 277.42 L592.09 278.43 L593.68 279.43 L595.27 280.41 L596.86 281.38 L598.45 282.34 L600.05 283.27 L601.64 284.19 L603.23 285.08 L604.82 285.96 L606.41 286.81 L608 287.63 L609.6 288.44 L611.2 289.22 L612.8 289.98 L614.4 290.72 L616 291.43 L617.6 292.13 L619.2 292.81 L620.8 293.47 L622.4 294.11 L624 294.73 L625.6 295.34 L627.18 295.93 L628.76 296.5 L630.35 297.06 L631.93 297.59 L633.51 298.11 L635.09 298.62 L636.67 299.1 L638.25 299.56 L639.84 300 L641.42 300.41 L643 300.8 L644.5 301.15 L646 301.49 L647.5 301.81 L649 302.1 L650.5 302.38 L652 302.64 L653.5 302.88 L655 303.11 L656.5 303.31 L658 303.5 L659.56 303.66 L661.11 303.79 L662.67 303.89 L664.22 303.97 L665.78 304.04 L667.33 304.1 L668.89 304.16 L670.44 304.22 L672 304.3 L672 305.3 L670.44 305.22 L668.89 305.16 L667.33 305.1 L665.78 305.04 L664.22 304.97 L662.67 304.89 L661.11 304.79 L659.56 304.66 L658 304.5 L656.5 304.31 L655 304.11 L653.5 303.88 L652 303.64 L650.5 303.38 L649 303.1 L647.5 302.81 L646 302.49 L644.5 302.15 L643 301.8 L641.42 301.41 L639.84 301 L638.25 300.57 L636.67 300.13 L635.09 299.67 L633.51 299.2 L631.93 298.7 L630.35 298.19 L628.76 297.66 L627.18 297.12 L625.6 296.55 L624 295.97 L622.4 295.37 L620.8 294.75 L619.2 294.12 L617.6 293.47 L616 292.8 L614.4 292.11 L612.8 291.4 L611.2 290.66 L609.6 289.91 L608 289.13 L606.41 288.33 L604.82 287.5 L603.23 286.66 L601.64 285.79 L600.05 284.89 L598.45 283.99 L596.86 283.06 L595.27 282.11 L593.68 281.16 L592.09 280.18 L590.5 279.2 L588.91 278.2 L587.32 277.18 L585.73 276.14 L584.14 275.08 L582.55 274 L580.95 272.91 L579.36 271.82 L577.77 270.71 L576.18 269.6 L574.59 268.49 L573 267.37 L571.5 266.32 L570 265.25 L568.5 264.18 L567 263.1 L565.5 262.01 L564 260.92 L562.5 259.82 L561 258.72 L559.5 257.63 L558 256.53 L556.5 255.44 L555 254.35 Z" fill="#a9b9c6"/>
<path d="M555 253.5 L556.5 254.59 L558 255.69 L559.5 256.8 L561 257.9 L562.5 259 L564 260.1 L565.5 261.2 L567 262.3 L568.5 263.39 L570 264.47 L571.5 265.54 L573 266.6 L574.59 267.72 L576.18 268.84 L577.77 269.96 L579.36 271.07 L580.95 272.17 L582.55 273.27 L584.14 274.35 L585.73 275.41 L587.32 276.46 L588.91 277.49 L590.5 278.5 L592.09 279.49 L593.68 280.47 L595.27 281.43 L596.86 282.38 L598.45 283.32 L600.05 284.23 L601.64 285.13 L603.23 286.01 L604.82 286.86 L606.41 287.69 L608 288.5 L609.6 289.29 L611.2 290.05 L612.8 290.79 L614.4 291.51 L616 292.2 L617.6 292.88 L619.2 293.54 L620.8 294.18 L622.4 294.8 L624 295.41 L625.6 296 L627.18 296.57 L628.76 297.12 L630.35 297.66 L631.93 298.17 L633.51 298.67 L635.09 299.16 L636.67 299.62 L638.25 300.07 L639.84 300.5 L641.42 300.91 L643 301.3 L644.5 301.65 L646 301.99 L647.5 302.31 L649 302.6 L650.5 302.88 L652 303.14 L653.5 303.38 L655 303.61 L656.5 303.81 L658 304 L659.56 304.16 L661.11 304.29 L662.67 304.39 L664.22 304.47 L665.78 304.54 L667.33 304.6 L668.89 304.66 L670.44 304.72 L672 304.8" fill="none" stroke="#1a1aff" stroke-width="1.5"/>
<path d="M555 258.43 L556.5 259.43 L558 260.44 L559.5 261.45 L561 262.46 L562.5 263.47 L564 264.48 L565.5 265.48 L567 266.48 L568.5 267.48 L570 268.47 L571.5 269.45 L573 270.41 L574.59 271.44 L576.18 272.46 L577.77 273.48 L579.36 274.49 L580.95 275.5 L582.55 276.5 L584.14 277.49 L585.73 278.46 L587.32 279.41 L588.91 280.35 L590.5 281.26 L592.09 282.16 L593.68 283.04 L595.27 283.91 L596.86 284.76 L598.45 285.6 L600.05 286.43 L601.64 287.23 L603.23 288.02 L604.82 288.79 L606.41 289.54 L608 290.27 L609.6 290.97 L611.2 291.65 L612.8 292.3 L614.4 292.94 L616 293.55 L617.6 294.15 L619.2 294.72 L620.8 295.28 L622.4 295.82 L624 296.34 L625.6 296.86 L627.18 297.37 L628.76 297.86 L630.35 298.34 L631.93 298.79 L633.51 299.24 L635.09 299.66 L636.67 300.06 L638.25 300.45 L639.84 300.82 L641.42 301.17 L643 301.51 L644.5 301.81 L646 302.09 L647.5 302.35 L649 302.6 L650.5 302.88 L652 303.14 L653.5 303.38 L655 303.61 L656.5 303.81 L658 304 L659.56 304.16 L661.11 304.29 L662.67 304.39 L664.22 304.47 L665.78 304.54 L667.33 304.6 L668.89 304.66 L670.44 304.72 L672 304.8" fill="none" stroke="#ff00ff" stroke-width="3" stroke-dasharray="2 2.8"/>
<path d="M555 259.3 L556.5 260.25 L558 261.21 L559.5 262.17 L561 263.13 L562.5 264.1 L564 265.06 L565.5 266.01 L567 266.97 L568.5 267.91 L570 268.85 L571.5 269.78 L573 270.7 L574.59 271.68 L576.18 272.65 L577.77 273.61 L579.36 274.6 L580.95 275.59 L582.55 276.56 L584.14 277.53 L585.73 278.48 L587.32 279.42 L588.91 280.33 L590.5 281.23 L592.09 282.1 L593.68 282.97 L595.27 283.82 L596.86 284.65 L598.45 285.47 L600.05 286.27 L601.64 287.06 L603.23 287.85 L604.82 288.62 L606.41 289.37 L608 290.09 L609.6 290.79 L611.2 291.47 L612.8 292.13 L614.4 292.76 L616 293.38 L617.6 293.97 L619.2 294.55 L620.8 295.1 L622.4 295.64 L624 296.17 L625.6 296.68 L627.18 297.21 L628.76 297.71 L630.35 298.2 L631.93 298.67 L633.51 299.12 L635.09 299.56 L636.67 299.98 L638.25 300.38 L639.84 300.76 L641.42 301.12 L643 301.47 L644.5 301.78 L646 302.07 L647.5 302.34 L649 302.6 L650.5 302.88 L652 303.14 L653.5 303.38 L655 303.61 L656.5 303.81 L658 304 L659.56 304.16 L661.11 304.29 L662.67 304.39 L664.22 304.47 L665.78 304.54 L667.33 304.6 L668.89 304.66 L670.44 304.72 L672 304.8" fill="none" stroke="#ff0000" stroke-width="3" stroke-dasharray="5 6 1.8 6"/>
</g>
<g clip-path="url(#cp20)">
<path d="M157.9 373.4 L159.6 374.53 L161.3 375.62 L163 376.7 L164.7 377.8 L166.4 378.95 L168.1 380.17 L169.8 381.49 L171.33 382.79 L172.85 384.2 L174.38 385.67 L175.9 387.19 L177.43 388.72 L178.95 390.23 L180.47 391.7 L182 393.09 L183.59 394.49 L185.18 395.88 L186.77 397.25 L188.36 398.6 L189.95 399.94 L191.55 401.25 L193.14 402.53 L194.73 403.79 L196.32 405.02 L197.91 406.21 L199.5 407.37 L201.09 408.49 L202.68 409.58 L204.27 410.63 L205.86 411.64 L207.45 412.64 L209.05 413.6 L210.64 414.55 L212.23 415.47 L213.82 416.38 L215.41 417.27 L217 418.15 L218.6 419.03 L220.2 419.9 L221.8 420.76 L223.4 421.6 L225 422.42 L226.6 423.22 L228.2 423.99 L229.8 424.73 L231.4 425.44 L233 426.09 L234.6 426.7 L236.18 427.26 L237.76 427.77 L239.35 428.26 L240.93 428.7 L242.51 429.12 L244.09 429.51 L245.67 429.88 L247.25 430.23 L248.84 430.57 L250.42 430.89 L252 431.2 L253.67 431.49 L255.33 431.73 L257 431.93 L258.67 432.11 L260.33 432.3 L262 432.5 L262 433.5 L260.33 433.3 L258.67 433.11 L257 432.93 L255.33 432.73 L253.67 432.49 L252 432.2 L250.42 431.89 L248.84 431.57 L247.25 431.23 L245.67 430.88 L244.09 430.51 L242.51 430.12 L240.93 429.7 L239.35 429.26 L237.76 428.77 L236.18 428.26 L234.6 427.7 L233 427.09 L231.4 426.45 L229.8 425.78 L228.2 425.08 L226.6 424.34 L225 423.58 L223.4 422.79 L221.8 421.99 L220.2 421.17 L218.6 420.33 L217 419.49 L215.41 418.64 L213.82 417.78 L212.23 416.91 L210.64 416.02 L209.05 415.11 L207.45 414.18 L205.86 413.22 L204.27 412.23 L202.68 411.22 L201.09 410.17 L199.5 409.09 L197.91 407.96 L196.32 406.8 L194.73 405.61 L193.14 404.39 L191.55 403.14 L189.95 401.86 L188.36 400.56 L186.77 399.24 L185.18 397.9 L183.59 396.55 L182 395.18 L180.47 393.82 L178.95 392.39 L177.43 390.91 L175.9 389.41 L174.38 387.93 L172.85 386.49 L171.33 385.12 L169.8 383.85 L168.1 382.56 L166.4 381.38 L164.7 380.27 L163 379.21 L161.3 378.16 L159.6 377.11 L157.9 376.02 Z" fill="#a9b9c6"/>
<path d="M157.9 375.1 L159.6 376.2 L161.3 377.26 L163 378.32 L164.7 379.39 L166.4 380.51 L168.1 381.7 L169.8 383 L171.33 384.28 L172.85 385.66 L174.38 387.11 L175.9 388.6 L177.43 390.1 L178.95 391.59 L180.47 393.03 L182 394.4 L183.59 395.77 L185.18 397.14 L186.77 398.48 L188.36 399.81 L189.95 401.12 L191.55 402.41 L193.14 403.67 L194.73 404.9 L196.32 406.1 L197.91 407.27 L199.5 408.4 L201.09 409.49 L202.68 410.55 L204.27 411.58 L205.86 412.57 L207.45 413.54 L209.05 414.48 L210.64 415.39 L212.23 416.29 L213.82 417.17 L215.41 418.04 L217 418.9 L218.6 419.75 L220.2 420.6 L221.8 421.43 L223.4 422.24 L225 423.04 L226.6 423.81 L228.2 424.55 L229.8 425.27 L231.4 425.95 L233 426.59 L234.6 427.2 L236.18 427.76 L237.76 428.27 L239.35 428.76 L240.93 429.2 L242.51 429.62 L244.09 430.01 L245.67 430.38 L247.25 430.73 L248.84 431.07 L250.42 431.39 L252 431.7 L253.67 431.99 L255.33 432.23 L257 432.43 L258.67 432.61 L260.33 432.8 L262 433" fill="none" stroke="#1a1aff" stroke-width="1.5"/>
<path d="M157.9 380 L159.6 380.99 L161.3 381.95 L163 382.9 L164.7 383.86 L166.4 384.88 L168.1 385.97 L169.8 387.16 L171.33 388.34 L172.85 389.62 L174.38 390.98 L175.9 392.37 L177.43 393.78 L178.95 395.17 L180.47 396.53 L182 397.81 L183.59 399.09 L185.18 400.36 L186.77 401.62 L188.36 402.86 L189.95 404.07 L191.55 405.27 L193.14 406.43 L194.73 407.58 L196.32 408.69 L197.91 409.76 L199.5 410.8 L201.09 411.78 L202.68 412.73 L204.27 413.64 L205.86 414.51 L207.45 415.37 L209.05 416.19 L210.64 417 L212.23 417.78 L213.82 418.55 L215.41 419.3 L217 420.04 L218.6 420.78 L220.2 421.51 L221.8 422.27 L223.4 423.01 L225 423.74 L226.6 424.44 L228.2 425.11 L229.8 425.76 L231.4 426.37 L233 426.95 L234.6 427.48 L236.18 427.97 L237.76 428.42 L239.35 428.83 L240.93 429.21 L242.51 429.62 L244.09 430.01 L245.67 430.38 L247.25 430.73 L248.84 431.07 L250.42 431.39 L252 431.7 L253.67 431.99 L255.33 432.23 L257 432.43 L258.67 432.61 L260.33 432.8 L262 433" fill="none" stroke="#ff00ff" stroke-width="3" stroke-dasharray="2 2.8"/>
<path d="M157.9 380.9 L159.6 381.79 L161.3 382.64 L163 383.48 L164.7 384.34 L166.4 385.25 L168.1 386.23 L169.8 387.31 L171.33 388.4 L172.85 389.59 L174.38 390.85 L175.9 392.15 L177.43 393.46 L178.95 394.77 L180.47 396.13 L182 397.41 L183.59 398.69 L185.18 399.96 L186.77 401.22 L188.36 402.46 L189.95 403.67 L191.55 404.87 L193.14 406.03 L194.73 407.18 L196.32 408.29 L197.91 409.36 L199.5 410.4 L201.09 411.41 L202.68 412.37 L204.27 413.3 L205.86 414.21 L207.45 415.08 L209.05 415.93 L210.64 416.75 L212.23 417.56 L213.82 418.35 L215.41 419.13 L217 419.89 L218.6 420.65 L220.2 421.41 L221.8 422.17 L223.4 422.93 L225 423.66 L226.6 424.37 L228.2 425.05 L229.8 425.71 L231.4 426.33 L233 426.91 L234.6 427.45 L236.18 427.95 L237.76 428.41 L239.35 428.83 L240.93 429.21 L242.51 429.62 L244.09 430.01 L245.67 430.38 L247.25 430.73 L248.84 431.07 L250.42 431.39 L252 431.7 L253.67 431.99 L255.33 432.23 L257 432.43 L258.67 432.61 L260.33 432.8 L262 433" fill="none" stroke="#ff0000" stroke-width="3" stroke-dasharray="5 6 1.8 6"/>
</g>
<g clip-path="url(#cp21)">
<path d="M379.1 359.9 L380.8 360.77 L382.5 361.55 L384.2 362.32 L385.9 363.19 L387.6 364.23 L389.3 365.54 L391.04 367.22 L392.78 369.19 L394.52 371.34 L396.26 373.56 L398 375.74 L399.59 377.73 L401.18 379.77 L402.77 381.86 L404.36 383.98 L405.95 386.11 L407.55 388.23 L409.14 390.32 L410.73 392.36 L412.32 394.35 L413.91 396.25 L415.5 398.05 L417.09 399.77 L418.68 401.43 L420.27 403.03 L421.86 404.58 L423.45 406.08 L425.05 407.54 L426.64 408.94 L428.23 410.31 L429.82 411.63 L431.41 412.91 L433 414.16 L434.6 415.37 L436.2 416.54 L437.8 417.66 L439.4 418.73 L441 419.76 L442.6 420.76 L444.2 421.71 L445.8 422.63 L447.4 423.51 L449 424.32 L450.6 425.1 L452.18 425.83 L453.76 426.51 L455.35 427.16 L456.93 427.76 L458.51 428.33 L460.09 428.87 L461.67 429.38 L463.25 429.86 L464.84 430.32 L466.42 430.77 L468 431.2 L469.75 431.61 L471.5 431.92 L473.25 432.2 L475 432.5 L475 433.5 L473.25 433.2 L471.5 432.92 L469.75 432.61 L468 432.2 L466.42 431.77 L464.84 431.32 L463.25 430.86 L461.67 430.38 L460.09 429.87 L458.51 429.33 L456.93 428.76 L455.35 428.16 L453.76 427.51 L452.18 426.83 L450.6 426.1 L449 425.32 L447.4 424.51 L445.8 423.68 L444.2 422.82 L442.6 421.91 L441 420.97 L439.4 419.99 L437.8 418.97 L436.2 417.9 L434.6 416.78 L433 415.62 L431.41 414.42 L429.82 413.19 L428.23 411.92 L426.64 410.6 L425.05 409.25 L423.45 407.84 L421.86 406.39 L420.27 404.89 L418.68 403.34 L417.09 401.73 L415.5 400.06 L413.91 398.31 L412.32 396.46 L410.73 394.53 L409.14 392.53 L407.55 390.49 L405.95 388.42 L404.36 386.35 L402.77 384.28 L401.18 382.24 L399.59 380.24 L398 378.31 L396.26 376.18 L394.52 374.01 L392.78 371.92 L391.04 370 L389.3 368.38 L387.6 367.12 L385.9 366.14 L384.2 365.32 L382.5 364.6 L380.8 363.87 L379.1 363.06 Z" fill="#a9b9c6"/>
<path d="M379.1 362 L380.8 362.83 L382.5 363.57 L384.2 364.3 L385.9 365.13 L387.6 366.13 L389.3 367.4 L391.04 369.04 L392.78 370.97 L394.52 373.08 L396.26 375.26 L398 377.4 L399.59 379.35 L401.18 381.36 L402.77 383.41 L404.36 385.49 L405.95 387.58 L407.55 389.66 L409.14 391.72 L410.73 393.73 L412.32 395.67 L413.91 397.54 L415.5 399.3 L417.09 400.98 L418.68 402.6 L420.27 404.17 L421.86 405.68 L423.45 407.15 L425.05 408.56 L426.64 409.93 L428.23 411.26 L429.82 412.54 L431.41 413.79 L433 415 L434.6 416.18 L436.2 417.3 L437.8 418.39 L439.4 419.42 L441 420.42 L442.6 421.37 L444.2 422.29 L445.8 423.17 L447.4 424.01 L449 424.82 L450.6 425.6 L452.18 426.33 L453.76 427.01 L455.35 427.66 L456.93 428.26 L458.51 428.83 L460.09 429.37 L461.67 429.88 L463.25 430.36 L464.84 430.82 L466.42 431.27 L468 431.7 L469.75 432.11 L471.5 432.42 L473.25 432.7 L475 433" fill="none" stroke="#1a1aff" stroke-width="1.5"/>
<path d="M379.1 364.4 L380.8 365.32 L382.5 366.14 L384.2 366.97 L385.9 367.89 L387.6 368.98 L389.3 370.33 L391.04 372.06 L392.78 374.08 L394.52 376.28 L396.26 378.55 L398 380.79 L399.59 382.73 L401.18 384.73 L402.77 386.76 L404.36 388.83 L405.95 390.9 L407.55 392.97 L409.14 395 L410.73 397 L412.32 398.92 L413.91 400.77 L415.5 402.52 L417.09 404.18 L418.68 405.66 L420.27 407.05 L421.86 408.38 L423.45 409.66 L425.05 410.89 L426.64 412.08 L428.23 413.22 L429.82 414.33 L431.41 415.39 L433 416.42 L434.6 417.41 L436.2 418.35 L437.8 419.32 L439.4 420.28 L441 421.19 L442.6 422.06 L444.2 422.9 L445.8 423.69 L447.4 424.45 L449 425.18 L450.6 425.87 L452.18 426.52 L453.76 427.12 L455.35 427.68 L456.93 428.26 L458.51 428.83 L460.09 429.37 L461.67 429.88 L463.25 430.36 L464.84 430.82 L466.42 431.27 L468 431.7 L469.75 432.11 L471.5 432.42 L473.25 432.7 L475 433" fill="none" stroke="#ff00ff" stroke-width="3" stroke-dasharray="2 2.8"/>
<path d="M379.1 364.8 L380.8 365.61 L382.5 366.33 L384.2 367.05 L385.9 367.86 L387.6 368.85 L389.3 370.09 L391.04 371.72 L392.78 373.63 L394.52 375.72 L396.26 377.88 L398 380 L399.59 381.93 L401.18 383.93 L402.77 385.96 L404.36 388.03 L405.95 390.1 L407.55 392.17 L409.14 394.2 L410.73 396.2 L412.32 398.12 L413.91 399.97 L415.5 401.72 L417.09 403.38 L418.68 404.9 L420.27 406.33 L421.86 407.72 L423.45 409.05 L425.05 410.33 L426.64 411.57 L428.23 412.76 L429.82 413.91 L431.41 415.03 L433 416.1 L434.6 417.15 L436.2 418.14 L437.8 419.14 L439.4 420.11 L441 421.04 L442.6 421.93 L444.2 422.77 L445.8 423.59 L447.4 424.36 L449 425.11 L450.6 425.82 L452.18 426.48 L453.76 427.1 L455.35 427.68 L456.93 428.26 L458.51 428.83 L460.09 429.37 L461.67 429.88 L463.25 430.36 L464.84 430.82 L466.42 431.27 L468 431.7 L469.75 432.11 L471.5 432.42 L473.25 432.7 L475 433" fill="none" stroke="#ff0000" stroke-width="3" stroke-dasharray="5 6 1.8 6"/>
</g>
<g clip-path="url(#cp22)">
<path d="M596.2 355.1 L598.03 356.02 L599.85 356.86 L601.67 357.85 L603.5 359.22 L605.06 360.69 L606.61 362.34 L608.17 364.13 L609.72 366.03 L611.28 368.01 L612.83 370.05 L614.39 372.12 L615.94 374.19 L617.5 376.23 L619.09 378.34 L620.68 380.52 L622.27 382.77 L623.86 385.05 L625.45 387.34 L627.05 389.64 L628.64 391.91 L630.23 394.13 L631.82 396.29 L633.41 398.37 L635 400.35 L636.6 402.26 L638.2 404.13 L639.8 405.95 L641.4 407.74 L643 409.46 L644.6 411.14 L646.2 412.75 L647.8 414.29 L649.4 415.76 L651 417.15 L652.6 418.47 L654.18 419.67 L655.76 420.78 L657.35 421.79 L658.93 422.69 L660.51 423.52 L662.09 424.3 L663.67 425.04 L665.25 425.75 L666.84 426.44 L668.42 427.12 L670 427.8 L671.64 428.47 L673.29 429.07 L674.93 429.62 L676.57 430.14 L678.21 430.65 L679.86 431.16 L681.5 431.7 L681.5 432.7 L679.86 432.16 L678.21 431.65 L676.57 431.14 L674.93 430.62 L673.29 430.07 L671.64 429.47 L670 428.8 L668.42 428.12 L666.84 427.44 L665.25 426.75 L663.67 426.04 L662.09 425.3 L660.51 424.52 L658.93 423.69 L657.35 422.79 L655.76 421.83 L654.18 420.79 L652.6 419.65 L651 418.4 L649.4 417.07 L647.8 415.66 L646.2 414.18 L644.6 412.64 L643 411.03 L641.4 409.36 L639.8 407.65 L638.2 405.88 L636.6 404.07 L635 402.23 L633.41 400.32 L631.82 398.3 L630.23 396.2 L628.64 394.04 L627.05 391.84 L625.45 389.61 L623.86 387.37 L622.27 385.16 L620.68 382.98 L619.09 380.85 L617.5 378.81 L615.94 376.83 L614.39 374.82 L612.83 372.82 L611.28 370.84 L609.72 368.92 L608.17 367.08 L606.61 365.35 L605.06 363.77 L603.5 362.35 L601.67 361.06 L599.85 360.15 L598.03 359.37 L596.2 358.53 Z" fill="#a9b9c6"/>
<path d="M596.2 357.4 L598.03 358.26 L599.85 359.05 L601.67 359.99 L603.5 361.3 L605.06 362.73 L606.61 364.33 L608.17 366.07 L609.72 367.93 L611.28 369.87 L612.83 371.86 L614.39 373.88 L615.94 375.91 L617.5 377.9 L619.09 379.96 L620.68 382.1 L622.27 384.3 L623.86 386.53 L625.45 388.78 L627.05 391.02 L628.64 393.25 L630.23 395.43 L631.82 397.54 L633.41 399.57 L635 401.5 L636.6 403.36 L638.2 405.19 L639.8 406.97 L641.4 408.7 L643 410.38 L644.6 412.01 L646.2 413.57 L647.8 415.06 L649.4 416.49 L651 417.83 L652.6 419.1 L654.18 420.26 L655.76 421.32 L657.35 422.29 L658.93 423.19 L660.51 424.02 L662.09 424.8 L663.67 425.54 L665.25 426.25 L666.84 426.94 L668.42 427.62 L670 428.3 L671.64 428.97 L673.29 429.57 L674.93 430.12 L676.57 430.64 L678.21 431.15 L679.86 431.66 L681.5 432.2" fill="none" stroke="#1a1aff" stroke-width="1.5"/>
<path d="M596.2 360.7 L598.03 361.6 L599.85 362.42 L601.67 363.39 L603.5 364.73 L605.06 366.19 L606.61 367.82 L608.17 369.58 L609.72 371.46 L611.28 373.43 L612.83 375.45 L614.39 377.42 L615.94 379.35 L617.5 381.25 L619.09 383.22 L620.68 385.26 L622.27 387.37 L623.86 389.51 L625.45 391.66 L627.05 393.82 L628.64 395.95 L630.23 398.03 L631.82 399.97 L633.41 401.81 L635 403.55 L636.6 405.23 L638.2 406.86 L639.8 408.46 L641.4 410 L643 411.5 L644.6 412.93 L646.2 414.31 L647.8 415.65 L649.4 417.02 L651 418.31 L652.6 419.52 L654.18 420.62 L655.76 421.62 L657.35 422.54 L658.93 423.38 L660.51 424.16 L662.09 424.89 L663.67 425.57 L665.25 426.25 L666.84 426.94 L668.42 427.62 L670 428.3 L671.64 428.97 L673.29 429.57 L674.93 430.12 L676.57 430.64 L678.21 431.15 L679.86 431.66 L681.5 432.2" fill="none" stroke="#ff00ff" stroke-width="3" stroke-dasharray="2 2.8"/>
<path d="M596.2 361.3 L598.03 362.07 L599.85 362.76 L601.67 363.6 L603.5 364.81 L605.06 366.16 L606.61 367.68 L608.17 369.34 L609.72 371.11 L611.28 372.97 L612.83 374.88 L614.39 376.82 L615.94 378.75 L617.5 380.65 L619.09 382.62 L620.68 384.66 L622.27 386.77 L623.86 388.91 L625.45 391.06 L627.05 393.22 L628.64 395.35 L630.23 397.43 L631.82 399.41 L633.41 401.3 L635 403.09 L636.6 404.81 L638.2 406.49 L639.8 408.13 L641.4 409.73 L643 411.27 L644.6 412.75 L646.2 414.17 L647.8 415.55 L649.4 416.93 L651 418.23 L652.6 419.45 L654.18 420.56 L655.76 421.57 L657.35 422.5 L658.93 423.35 L660.51 424.14 L662.09 424.87 L663.67 425.56 L665.25 426.25 L666.84 426.94 L668.42 427.62 L670 428.3 L671.64 428.97 L673.29 429.57 L674.93 430.12 L676.57 430.64 L678.21 431.15 L679.86 431.66 L681.5 432.2" fill="none" stroke="#ff0000" stroke-width="3" stroke-dasharray="5 6 1.8 6"/>
</g>
<g clip-path="url(#cp30)">
<path d="M197.1 486.7 L199.15 487.36 L201.2 488.25 L203.1 489.64 L205 491.5 L206.85 493.96 L208.7 496.64 L210.27 498.73 L211.85 500.77 L213.43 502.83 L215 504.98 L216.5 507.14 L218 509.37 L219.5 511.64 L221 513.9 L222.62 516.38 L224.25 518.89 L225.88 521.34 L227.5 523.65 L229.12 525.77 L230.75 527.75 L232.38 529.65 L234 531.49 L235.5 533.15 L237 534.73 L238.5 536.28 L240 537.82 L241.5 539.37 L243 540.9 L244.5 542.4 L246 543.85 L247.6 545.35 L249.2 546.8 L250.8 548.16 L252.4 549.4 L253.96 550.53 L255.51 551.61 L257.07 552.65 L258.63 553.64 L260.19 554.58 L261.74 555.46 L263.3 556.3 L264.88 557.06 L266.46 557.71 L268.04 558.31 L269.62 558.89 L271.2 559.5 L271.2 560.5 L269.62 559.89 L268.04 559.31 L266.46 558.71 L264.88 558.06 L263.3 557.3 L261.74 556.46 L260.19 555.58 L258.63 554.64 L257.07 553.65 L255.51 552.61 L253.96 551.53 L252.4 550.4 L250.8 549.16 L249.2 547.84 L247.6 546.47 L246 545.05 L244.5 543.68 L243 542.26 L241.5 540.8 L240 539.33 L238.5 537.87 L237 536.4 L235.5 534.89 L234 533.31 L232.38 531.55 L230.75 529.74 L229.12 527.83 L227.5 525.8 L225.88 523.58 L224.25 521.2 L222.62 518.78 L221 516.38 L219.5 514.2 L218 512.01 L216.5 509.85 L215 507.76 L213.43 505.7 L211.85 503.72 L210.27 501.76 L208.7 499.75 L206.85 497.16 L205 494.8 L203.1 493.03 L201.2 491.75 L199.15 490.95 L197.1 490.4 Z" fill="#a9b9c6"/>
<path d="M197.1 489.2 L199.15 489.78 L201.2 490.6 L203.1 491.91 L205 493.7 L206.85 496.09 L208.7 498.7 L210.27 500.73 L211.85 502.71 L213.43 504.71 L215 506.8 L216.5 508.9 L218 511.08 L219.5 513.3 L221 515.5 L222.62 517.91 L224.25 520.36 L225.88 522.76 L227.5 525 L229.12 527.06 L230.75 528.98 L232.38 530.81 L234 532.6 L235.5 534.2 L237 535.73 L238.5 537.22 L240 538.7 L241.5 540.19 L243 541.66 L244.5 543.11 L246 544.5 L247.6 545.94 L249.2 547.33 L250.8 548.66 L252.4 549.9 L253.96 551.03 L255.51 552.11 L257.07 553.15 L258.63 554.14 L260.19 555.08 L261.74 555.96 L263.3 556.8 L264.88 557.56 L266.46 558.21 L268.04 558.81 L269.62 559.39 L271.2 560" fill="none" stroke="#1a1aff" stroke-width="1.5"/>
<path d="M197.1 491.9 L199.15 492.63 L201.2 493.6 L203.1 495.06 L205 496.99 L206.85 499.52 L208.7 502.26 L210.27 504.41 L211.85 506.51 L213.43 508.46 L215 510.5 L216.5 512.55 L218 514.68 L219.5 516.84 L221 518.99 L222.62 521.35 L224.25 523.75 L225.88 526.09 L227.5 528.2 L229.12 530.03 L230.75 531.74 L232.38 533.35 L234 534.92 L235.5 536.31 L237 537.64 L238.5 538.93 L240 540.21 L241.5 541.5 L243 542.84 L244.5 544.15 L246 545.41 L247.6 546.71 L249.2 547.96 L250.8 549.15 L252.4 550.25 L253.96 551.24 L255.51 552.19 L257.07 553.15 L258.63 554.14 L260.19 555.08 L261.74 555.96 L263.3 556.8 L264.88 557.56 L266.46 558.21 L268.04 558.81 L269.62 559.39 L271.2 560" fill="none" stroke="#ff00ff" stroke-width="3" stroke-dasharray="2 2.8"/>
<path d="M197.1 492.4 L199.15 492.95 L201.2 493.74 L203.1 495.03 L205 496.79 L206.85 499.16 L208.7 501.74 L210.27 503.75 L211.85 505.71 L213.43 507.66 L215 509.7 L216.5 511.75 L218 513.88 L219.5 516.04 L221 518.19 L222.62 520.55 L224.25 522.95 L225.88 525.29 L227.5 527.42 L229.12 529.32 L230.75 531.07 L232.38 532.74 L234 534.37 L235.5 535.81 L237 537.19 L238.5 538.53 L240 539.86 L241.5 541.19 L243 542.57 L244.5 543.91 L246 545.2 L247.6 546.53 L249.2 547.82 L250.8 549.04 L252.4 550.17 L253.96 551.19 L255.51 552.17 L257.07 553.15 L258.63 554.14 L260.19 555.08 L261.74 555.96 L263.3 556.8 L264.88 557.56 L266.46 558.21 L268.04 558.81 L269.62 559.39 L271.2 560" fill="none" stroke="#ff0000" stroke-width="3" stroke-dasharray="5 6 1.8 6"/>
</g>
<g clip-path="url(#cp31)">
<path d="M416.9 496 L418.77 497.06 L420.63 498.11 L422.5 499.5 L424.05 501.01 L425.6 502.74 L427.15 504.64 L428.7 506.63 L430.27 508.75 L431.85 510.99 L433.43 513.34 L435 515.76 L436.55 518.28 L438.1 520.93 L439.65 523.58 L441.2 526.09 L442.77 528.49 L444.35 530.8 L445.93 533.02 L447.5 535.12 L449.05 537.08 L450.6 538.92 L452.15 540.68 L453.7 542.35 L455.25 543.94 L456.8 545.44 L458.35 546.88 L459.9 548.2 L461.47 549.54 L463.05 550.86 L464.62 552.1 L466.2 553.2 L467.94 554.23 L469.68 555.11 L471.42 555.91 L473.16 556.68 L474.9 557.5 L474.9 558.5 L473.16 557.68 L471.42 556.91 L469.68 556.11 L467.94 555.23 L466.2 554.2 L464.62 553.1 L463.05 551.86 L461.47 550.54 L459.9 549.2 L458.35 547.88 L456.8 546.55 L455.25 545.16 L453.7 543.69 L452.15 542.12 L450.6 540.48 L449.05 538.74 L447.5 536.9 L445.93 534.91 L444.35 532.81 L442.77 530.61 L441.2 528.32 L439.65 525.92 L438.1 523.38 L436.55 520.84 L435 518.43 L433.43 516.12 L431.85 513.89 L430.27 511.76 L428.7 509.75 L427.15 507.87 L425.6 506.09 L424.05 504.46 L422.5 503.07 L420.63 501.82 L418.77 500.89 L416.9 499.97 Z" fill="#a9b9c6"/>
<path d="M416.9 498.7 L418.77 499.66 L420.63 500.62 L422.5 501.9 L424.05 503.33 L425.6 504.98 L427.15 506.79 L428.7 508.7 L430.27 510.74 L431.85 512.9 L433.43 515.16 L435 517.5 L436.55 519.94 L438.1 522.51 L439.65 525.07 L441.2 527.5 L442.77 529.82 L444.35 532.05 L445.93 534.18 L447.5 536.2 L449.05 538.07 L450.6 539.84 L452.15 541.51 L453.7 543.1 L455.25 544.61 L456.8 546.02 L458.35 547.38 L459.9 548.7 L461.47 550.04 L463.05 551.36 L464.62 552.6 L466.2 553.7 L467.94 554.73 L469.68 555.61 L471.42 556.41 L473.16 557.18 L474.9 558" fill="none" stroke="#1a1aff" stroke-width="1.5"/>
<path d="M416.9 501 L418.77 501.91 L420.63 502.82 L422.5 504.06 L424.05 505.44 L425.6 507.06 L427.15 508.83 L428.7 510.69 L430.27 512.67 L431.85 514.78 L433.43 516.99 L435 519.28 L436.55 521.66 L438.1 524.18 L439.65 526.69 L441.2 529.02 L442.77 531.23 L444.35 533.35 L445.93 535.38 L447.5 537.29 L449.05 539.06 L450.6 540.71 L452.15 542.27 L453.7 543.76 L455.25 545.16 L456.8 546.47 L458.35 547.72 L459.9 548.93 L461.47 550.17 L463.05 551.38 L464.62 552.6 L466.2 553.7 L467.94 554.73 L469.68 555.61 L471.42 556.41 L473.16 557.18 L474.9 558" fill="none" stroke="#ff00ff" stroke-width="3" stroke-dasharray="2 2.8"/>
<path d="M416.9 501.4 L418.77 502.16 L420.63 502.93 L422.5 504.02 L424.05 505.29 L425.6 506.78 L427.15 508.43 L428.7 510.19 L430.27 512.19 L431.85 514.31 L433.43 516.53 L435 518.83 L436.55 521.23 L438.1 523.76 L439.65 526.28 L441.2 528.64 L442.77 530.88 L444.35 533.03 L445.93 535.08 L447.5 537.02 L449.05 538.81 L450.6 540.49 L452.15 542.08 L453.7 543.6 L455.25 545.02 L456.8 546.36 L458.35 547.63 L459.9 548.88 L461.47 550.14 L463.05 551.37 L464.62 552.6 L466.2 553.7 L467.94 554.73 L469.68 555.61 L471.42 556.41 L473.16 557.18 L474.9 558" fill="none" stroke="#ff0000" stroke-width="3" stroke-dasharray="5 6 1.8 6"/>
</g>
<g clip-path="url(#cp32)">
<path d="M647.3 524 L648.88 525.49 L650.46 526.97 L652.04 528.45 L653.62 529.96 L655.2 531.53 L656.84 533.23 L658.48 534.99 L660.12 536.77 L661.76 538.55 L663.4 540.27 L665.04 541.97 L666.68 543.66 L668.32 545.31 L669.96 546.91 L671.6 548.4 L673.15 549.63 L674.7 550.78 L676.25 551.87 L677.8 552.94 L679.35 554.01 L680.9 555.1 L680.9 556.1 L679.35 555.01 L677.8 553.94 L676.25 552.87 L674.7 551.78 L673.15 550.63 L671.6 549.4 L669.96 548.03 L668.32 546.58 L666.68 545.07 L665.04 543.53 L663.4 541.98 L661.76 540.41 L660.12 538.78 L658.48 537.14 L656.84 535.53 L655.2 533.98 L653.62 532.55 L652.04 531.18 L650.46 529.84 L648.88 528.51 L647.3 527.16 Z" fill="#a9b9c6"/>
<path d="M647.3 526.1 L648.88 527.49 L650.46 528.86 L652.04 530.24 L653.62 531.64 L655.2 533.1 L656.84 534.69 L658.48 536.34 L660.12 538.02 L661.76 539.68 L663.4 541.3 L665.04 542.89 L666.68 544.46 L668.32 546.01 L669.96 547.5 L671.6 548.9 L673.15 550.13 L674.7 551.28 L676.25 552.37 L677.8 553.44 L679.35 554.51 L680.9 555.6" fill="none" stroke="#1a1aff" stroke-width="1.5"/>
<path d="M647.3 526.44 L648.88 527.8 L650.46 529.15 L652.04 530.5 L653.62 531.89 L655.2 533.32 L656.84 534.89 L658.48 536.52 L660.12 538.17 L661.76 539.81 L663.4 541.41 L665.04 542.98 L666.68 544.53 L668.32 546.06 L669.96 547.54 L671.6 548.92 L673.15 550.14 L674.7 551.28 L676.25 552.37 L677.8 553.44 L679.35 554.51 L680.9 555.6" fill="none" stroke="#ff00ff" stroke-width="3" stroke-dasharray="2 2.8"/>
<path d="M647.3 526.5 L648.88 527.85 L650.46 529.19 L652.04 530.53 L653.62 531.9 L655.2 533.33 L656.84 534.89 L658.48 536.51 L660.12 538.16 L661.76 539.8 L663.4 541.4 L665.04 542.96 L666.68 544.52 L668.32 546.05 L669.96 547.53 L671.6 548.92 L673.15 550.14 L674.7 551.28 L676.25 552.37 L677.8 553.44 L679.35 554.51 L680.9 555.6" fill="none" stroke="#ff0000" stroke-width="3" stroke-dasharray="5 6 1.8 6"/>
</g>
<g stroke="#000" fill="none" stroke-width="1.7">
<rect x="66.9" y="47.2" width="616.6" height="515.65"/>
<line x1="272.3" y1="47.2" x2="272.3" y2="562.85"/>
<line x1="478.05" y1="47.2" x2="478.05" y2="562.85"/>
<line x1="66.9" y1="175.9" x2="683.5" y2="175.9"/>
<line x1="66.9" y1="305.05" x2="683.5" y2="305.05"/>
<line x1="66.9" y1="433.75" x2="683.5" y2="433.75"/>
</g>
<path d="M82.31 175.9V174.15M91.33 175.9V174.15M97.73 175.9V174.15M102.69 175.9V174.15M106.74 175.9V174.15M110.17 175.9V174.15M113.14 175.9V174.15M115.76 175.9V174.15M118.1 175.9V173.05M133.51 175.9V174.15M142.53 175.9V174.15M148.93 175.9V174.15M153.89 175.9V174.15M157.94 175.9V174.15M161.37 175.9V174.15M164.34 175.9V174.15M166.96 175.9V174.15M169.3 175.9V173.05M184.71 175.9V174.15M193.73 175.9V174.15M200.13 175.9V174.15M205.09 175.9V174.15M209.14 175.9V174.15M212.57 175.9V174.15M215.54 175.9V174.15M218.16 175.9V174.15M220.5 175.9V173.05M235.91 175.9V174.15M244.93 175.9V174.15M251.33 175.9V174.15M256.29 175.9V174.15M260.34 175.9V174.15M263.77 175.9V174.15M266.74 175.9V174.15M269.36 175.9V174.15M271.7 175.9V173.05M82.31 305.05V303.3M82.31 175.9V177.75M91.33 305.05V303.3M91.33 175.9V177.75M97.73 305.05V303.3M97.73 175.9V177.75M102.69 305.05V303.3M102.69 175.9V177.75M106.74 305.05V303.3M106.74 175.9V177.75M110.17 305.05V303.3M110.17 175.9V177.75M113.14 305.05V303.3M113.14 175.9V177.75M115.76 305.05V303.3M115.76 175.9V177.75M118.1 305.05V302.2M118.1 175.9V178.95M133.51 305.05V303.3M133.51 175.9V177.75M142.53 305.05V303.3M142.53 175.9V177.75M148.93 305.05V303.3M148.93 175.9V177.75M153.89 305.05V303.3M153.89 175.9V177.75M157.94 305.05V303.3M157.94 175.9V177.75M161.37 305.05V303.3M161.37 175.9V177.75M164.34 305.05V303.3M164.34 175.9V177.75M166.96 305.05V303.3M166.96 175.9V177.75M169.3 305.05V302.2M169.3 175.9V178.95M184.71 305.05V303.3M184.71 175.9V177.75M193.73 305.05V303.3M193.73 175.9V177.75M200.13 305.05V303.3M200.13 175.9V177.75M205.09 305.05V303.3M205.09 175.9V177.75M209.14 305.05V303.3M209.14 175.9V177.75M212.57 305.05V303.3M212.57 175.9V177.75M215.54 305.05V303.3M215.54 175.9V177.75M218.16 305.05V303.3M218.16 175.9V177.75M220.5 305.05V302.2M220.5 175.9V178.95M235.91 305.05V303.3M235.91 175.9V177.75M244.93 305.05V303.3M244.93 175.9V177.75M251.33 305.05V303.3M251.33 175.9V177.75M256.29 305.05V303.3M256.29 175.9V177.75M260.34 305.05V303.3M260.34 175.9V177.75M263.77 305.05V303.3M263.77 175.9V177.75M266.74 305.05V303.3M266.74 175.9V177.75M269.36 305.05V303.3M269.36 175.9V177.75M271.7 305.05V302.2M271.7 175.9V178.95M82.31 433.75V432M82.31 305.05V306.9M91.33 433.75V432M91.33 305.05V306.9M97.73 433.75V432M97.73 305.05V306.9M102.69 433.75V432M102.69 305.05V306.9M106.74 433.75V432M106.74 305.05V306.9M110.17 433.75V432M110.17 305.05V306.9M113.14 433.75V432M113.14 305.05V306.9M115.76 433.75V432M115.76 305.05V306.9M118.1 433.75V430.9M118.1 305.05V308.1M133.51 433.75V432M133.51 305.05V306.9M142.53 433.75V432M142.53 305.05V306.9M148.93 433.75V432M148.93 305.05V306.9M153.89 433.75V432M153.89 305.05V306.9M157.94 433.75V432M157.94 305.05V306.9M161.37 433.75V432M161.37 305.05V306.9M164.34 433.75V432M164.34 305.05V306.9M166.96 433.75V432M166.96 305.05V306.9M169.3 433.75V430.9M169.3 305.05V308.1M184.71 433.75V432M184.71 305.05V306.9M193.73 433.75V432M193.73 305.05V306.9M200.13 433.75V432M200.13 305.05V306.9M205.09 433.75V432M205.09 305.05V306.9M209.14 433.75V432M209.14 305.05V306.9M212.57 433.75V432M212.57 305.05V306.9M215.54 433.75V432M215.54 305.05V306.9M218.16 433.75V432M218.16 305.05V306.9M220.5 433.75V430.9M220.5 305.05V308.1M235.91 433.75V432M235.91 305.05V306.9M244.93 433.75V432M244.93 305.05V306.9M251.33 433.75V432M251.33 305.05V306.9M256.29 433.75V432M256.29 305.05V306.9M260.34 433.75V432M260.34 305.05V306.9M263.77 433.75V432M263.77 305.05V306.9M266.74 433.75V432M266.74 305.05V306.9M269.36 433.75V432M269.36 305.05V306.9M271.7 433.75V430.9M271.7 305.05V308.1M82.31 562.85V560.9M82.31 433.75V436.15M91.33 562.85V560.9M91.33 433.75V436.15M97.73 562.85V560.9M97.73 433.75V436.15M102.69 562.85V560.9M102.69 433.75V436.15M106.74 562.85V560.9M106.74 433.75V436.15M110.17 562.85V560.9M110.17 433.75V436.15M113.14 562.85V560.9M113.14 433.75V436.15M115.76 562.85V560.9M115.76 433.75V436.15M118.1 562.85V558.95M118.1 433.75V437.85M133.51 562.85V560.9M133.51 433.75V436.15M142.53 562.85V560.9M142.53 433.75V436.15M148.93 562.85V560.9M148.93 433.75V436.15M153.89 562.85V560.9M153.89 433.75V436.15M157.94 562.85V560.9M157.94 433.75V436.15M161.37 562.85V560.9M161.37 433.75V436.15M164.34 562.85V560.9M164.34 433.75V436.15M166.96 562.85V560.9M166.96 433.75V436.15M169.3 562.85V558.95M169.3 433.75V437.85M184.71 562.85V560.9M184.71 433.75V436.15M193.73 562.85V560.9M193.73 433.75V436.15M200.13 562.85V560.9M200.13 433.75V436.15M205.09 562.85V560.9M205.09 433.75V436.15M209.14 562.85V560.9M209.14 433.75V436.15M212.57 562.85V560.9M212.57 433.75V436.15M215.54 562.85V560.9M215.54 433.75V436.15M218.16 562.85V560.9M218.16 433.75V436.15M220.5 562.85V558.95M220.5 433.75V437.85M235.91 562.85V560.9M235.91 433.75V436.15M244.93 562.85V560.9M244.93 433.75V436.15M251.33 562.85V560.9M251.33 433.75V436.15M256.29 562.85V560.9M256.29 433.75V436.15M260.34 562.85V560.9M260.34 433.75V436.15M263.77 562.85V560.9M263.77 433.75V436.15M266.74 562.85V560.9M266.74 433.75V436.15M269.36 562.85V560.9M269.36 433.75V436.15M271.7 562.85V558.95M271.7 433.75V437.85M287.71 175.9V174M296.73 175.9V174M303.13 175.9V174M308.09 175.9V174M312.14 175.9V174M315.57 175.9V174M318.54 175.9V174M321.16 175.9V174M323.5 175.9V172.1M338.91 175.9V174M347.93 175.9V174M354.33 175.9V174M359.29 175.9V174M363.34 175.9V174M366.77 175.9V174M369.74 175.9V174M372.36 175.9V174M374.7 175.9V172.1M390.11 175.9V174M399.13 175.9V174M405.53 175.9V174M410.49 175.9V174M414.54 175.9V174M417.97 175.9V174M420.94 175.9V174M423.56 175.9V174M425.9 175.9V172.1M441.31 175.9V174M450.33 175.9V174M456.73 175.9V174M461.69 175.9V174M465.74 175.9V174M469.17 175.9V174M472.14 175.9V174M474.76 175.9V174M477.1 175.9V172.1M287.71 305.05V303.15M287.71 175.9V177.9M296.73 305.05V303.15M296.73 175.9V177.9M303.13 305.05V303.15M303.13 175.9V177.9M308.09 305.05V303.15M308.09 175.9V177.9M312.14 305.05V303.15M312.14 175.9V177.9M315.57 305.05V303.15M315.57 175.9V177.9M318.54 305.05V303.15M318.54 175.9V177.9M321.16 305.05V303.15M321.16 175.9V177.9M323.5 305.05V301.25M323.5 175.9V179.8M338.91 305.05V303.15M338.91 175.9V177.9M347.93 305.05V303.15M347.93 175.9V177.9M354.33 305.05V303.15M354.33 175.9V177.9M359.29 305.05V303.15M359.29 175.9V177.9M363.34 305.05V303.15M363.34 175.9V177.9M366.77 305.05V303.15M366.77 175.9V177.9M369.74 305.05V303.15M369.74 175.9V177.9M372.36 305.05V303.15M372.36 175.9V177.9M374.7 305.05V301.25M374.7 175.9V179.8M390.11 305.05V303.15M390.11 175.9V177.9M399.13 305.05V303.15M399.13 175.9V177.9M405.53 305.05V303.15M405.53 175.9V177.9M410.49 305.05V303.15M410.49 175.9V177.9M414.54 305.05V303.15M414.54 175.9V177.9M417.97 305.05V303.15M417.97 175.9V177.9M420.94 305.05V303.15M420.94 175.9V177.9M423.56 305.05V303.15M423.56 175.9V177.9M425.9 305.05V301.25M425.9 175.9V179.8M441.31 305.05V303.15M441.31 175.9V177.9M450.33 305.05V303.15M450.33 175.9V177.9M456.73 305.05V303.15M456.73 175.9V177.9M461.69 305.05V303.15M461.69 175.9V177.9M465.74 305.05V303.15M465.74 175.9V177.9M469.17 305.05V303.15M469.17 175.9V177.9M472.14 305.05V303.15M472.14 175.9V177.9M474.76 305.05V303.15M474.76 175.9V177.9M477.1 305.05V301.25M477.1 175.9V179.8M287.71 433.75V431.85M287.71 305.05V307.05M296.73 433.75V431.85M296.73 305.05V307.05M303.13 433.75V431.85M303.13 305.05V307.05M308.09 433.75V431.85M308.09 305.05V307.05M312.14 433.75V431.85M312.14 305.05V307.05M315.57 433.75V431.85M315.57 305.05V307.05M318.54 433.75V431.85M318.54 305.05V307.05M321.16 433.75V431.85M321.16 305.05V307.05M323.5 433.75V429.95M323.5 305.05V308.95M338.91 433.75V431.85M338.91 305.05V307.05M347.93 433.75V431.85M347.93 305.05V307.05M354.33 433.75V431.85M354.33 305.05V307.05M359.29 433.75V431.85M359.29 305.05V307.05M363.34 433.75V431.85M363.34 305.05V307.05M366.77 433.75V431.85M366.77 305.05V307.05M369.74 433.75V431.85M369.74 305.05V307.05M372.36 433.75V431.85M372.36 305.05V307.05M374.7 433.75V429.95M374.7 305.05V308.95M390.11 433.75V431.85M390.11 305.05V307.05M399.13 433.75V431.85M399.13 305.05V307.05M405.53 433.75V431.85M405.53 305.05V307.05M410.49 433.75V431.85M410.49 305.05V307.05M414.54 433.75V431.85M414.54 305.05V307.05M417.97 433.75V431.85M417.97 305.05V307.05M420.94 433.75V431.85M420.94 305.05V307.05M423.56 433.75V431.85M423.56 305.05V307.05M425.9 433.75V429.95M425.9 305.05V308.95M441.31 433.75V431.85M441.31 305.05V307.05M450.33 433.75V431.85M450.33 305.05V307.05M456.73 433.75V431.85M456.73 305.05V307.05M461.69 433.75V431.85M461.69 305.05V307.05M465.74 433.75V431.85M465.74 305.05V307.05M469.17 433.75V431.85M469.17 305.05V307.05M472.14 433.75V431.85M472.14 305.05V307.05M474.76 433.75V431.85M474.76 305.05V307.05M477.1 433.75V429.95M477.1 305.05V308.95M287.71 562.85V560.25M287.71 433.75V436.75M296.73 562.85V560.25M296.73 433.75V436.75M303.13 562.85V560.25M303.13 433.75V436.75M308.09 562.85V560.25M308.09 433.75V436.75M312.14 562.85V560.25M312.14 433.75V436.75M315.57 562.85V560.25M315.57 433.75V436.75M318.54 562.85V560.25M318.54 433.75V436.75M321.16 562.85V560.25M321.16 433.75V436.75M323.5 562.85V557.65M323.5 433.75V439.35M338.91 562.85V560.25M338.91 433.75V436.75M347.93 562.85V560.25M347.93 433.75V436.75M354.33 562.85V560.25M354.33 433.75V436.75M359.29 562.85V560.25M359.29 433.75V436.75M363.34 562.85V560.25M363.34 433.75V436.75M366.77 562.85V560.25M366.77 433.75V436.75M369.74 562.85V560.25M369.74 433.75V436.75M372.36 562.85V560.25M372.36 433.75V436.75M374.7 562.85V557.65M374.7 433.75V439.35M390.11 562.85V560.25M390.11 433.75V436.75M399.13 562.85V560.25M399.13 433.75V436.75M405.53 562.85V560.25M405.53 433.75V436.75M410.49 562.85V560.25M410.49 433.75V436.75M414.54 562.85V560.25M414.54 433.75V436.75M417.97 562.85V560.25M417.97 433.75V436.75M420.94 562.85V560.25M420.94 433.75V436.75M423.56 562.85V560.25M423.56 433.75V436.75M425.9 562.85V557.65M425.9 433.75V439.35M441.31 562.85V560.25M441.31 433.75V436.75M450.33 562.85V560.25M450.33 433.75V436.75M456.73 562.85V560.25M456.73 433.75V436.75M461.69 562.85V560.25M461.69 433.75V436.75M465.74 562.85V560.25M465.74 433.75V436.75M469.17 562.85V560.25M469.17 433.75V436.75M472.14 562.85V560.25M472.14 433.75V436.75M474.76 562.85V560.25M474.76 433.75V436.75M477.1 562.85V557.65M477.1 433.75V439.35M493.46 175.9V174M502.48 175.9V174M508.88 175.9V174M513.84 175.9V174M517.89 175.9V174M521.32 175.9V174M524.29 175.9V174M526.91 175.9V174M529.25 175.9V172.1M544.66 175.9V174M553.68 175.9V174M560.08 175.9V174M565.04 175.9V174M569.09 175.9V174M572.52 175.9V174M575.49 175.9V174M578.11 175.9V174M580.45 175.9V172.1M595.86 175.9V174M604.88 175.9V174M611.28 175.9V174M616.24 175.9V174M620.29 175.9V174M623.72 175.9V174M626.69 175.9V174M629.31 175.9V174M631.65 175.9V172.1M647.06 175.9V174M656.08 175.9V174M662.48 175.9V174M667.44 175.9V174M671.49 175.9V174M674.92 175.9V174M677.89 175.9V174M680.51 175.9V174M682.85 175.9V172.1M493.46 305.05V303.15M493.46 175.9V177.9M502.48 305.05V303.15M502.48 175.9V177.9M508.88 305.05V303.15M508.88 175.9V177.9M513.84 305.05V303.15M513.84 175.9V177.9M517.89 305.05V303.15M517.89 175.9V177.9M521.32 305.05V303.15M521.32 175.9V177.9M524.29 305.05V303.15M524.29 175.9V177.9M526.91 305.05V303.15M526.91 175.9V177.9M529.25 305.05V301.25M529.25 175.9V179.8M544.66 305.05V303.15M544.66 175.9V177.9M553.68 305.05V303.15M553.68 175.9V177.9M560.08 305.05V303.15M560.08 175.9V177.9M565.04 305.05V303.15M565.04 175.9V177.9M569.09 305.05V303.15M569.09 175.9V177.9M572.52 305.05V303.15M572.52 175.9V177.9M575.49 305.05V303.15M575.49 175.9V177.9M578.11 305.05V303.15M578.11 175.9V177.9M580.45 305.05V301.25M580.45 175.9V179.8M595.86 305.05V303.15M595.86 175.9V177.9M604.88 305.05V303.15M604.88 175.9V177.9M611.28 305.05V303.15M611.28 175.9V177.9M616.24 305.05V303.15M616.24 175.9V177.9M620.29 305.05V303.15M620.29 175.9V177.9M623.72 305.05V303.15M623.72 175.9V177.9M626.69 305.05V303.15M626.69 175.9V177.9M629.31 305.05V303.15M629.31 175.9V177.9M631.65 305.05V301.25M631.65 175.9V179.8M647.06 305.05V303.15M647.06 175.9V177.9M656.08 305.05V303.15M656.08 175.9V177.9M662.48 305.05V303.15M662.48 175.9V177.9M667.44 305.05V303.15M667.44 175.9V177.9M671.49 305.05V303.15M671.49 175.9V177.9M674.92 305.05V303.15M674.92 175.9V177.9M677.89 305.05V303.15M677.89 175.9V177.9M680.51 305.05V303.15M680.51 175.9V177.9M682.85 305.05V301.25M682.85 175.9V179.8M493.46 433.75V431.85M493.46 305.05V307.05M502.48 433.75V431.85M502.48 305.05V307.05M508.88 433.75V431.85M508.88 305.05V307.05M513.84 433.75V431.85M513.84 305.05V307.05M517.89 433.75V431.85M517.89 305.05V307.05M521.32 433.75V431.85M521.32 305.05V307.05M524.29 433.75V431.85M524.29 305.05V307.05M526.91 433.75V431.85M526.91 305.05V307.05M529.25 433.75V429.95M529.25 305.05V308.95M544.66 433.75V431.85M544.66 305.05V307.05M553.68 433.75V431.85M553.68 305.05V307.05M560.08 433.75V431.85M560.08 305.05V307.05M565.04 433.75V431.85M565.04 305.05V307.05M569.09 433.75V431.85M569.09 305.05V307.05M572.52 433.75V431.85M572.52 305.05V307.05M575.49 433.75V431.85M575.49 305.05V307.05M578.11 433.75V431.85M578.11 305.05V307.05M580.45 433.75V429.95M580.45 305.05V308.95M595.86 433.75V431.85M595.86 305.05V307.05M604.88 433.75V431.85M604.88 305.05V307.05M611.28 433.75V431.85M611.28 305.05V307.05M616.24 433.75V431.85M616.24 305.05V307.05M620.29 433.75V431.85M620.29 305.05V307.05M623.72 433.75V431.85M623.72 305.05V307.05M626.69 433.75V431.85M626.69 305.05V307.05M629.31 433.75V431.85M629.31 305.05V307.05M631.65 433.75V429.95M631.65 305.05V308.95M647.06 433.75V431.85M647.06 305.05V307.05M656.08 433.75V431.85M656.08 305.05V307.05M662.48 433.75V431.85M662.48 305.05V307.05M667.44 433.75V431.85M667.44 305.05V307.05M671.49 433.75V431.85M671.49 305.05V307.05M674.92 433.75V431.85M674.92 305.05V307.05M677.89 433.75V431.85M677.89 305.05V307.05M680.51 433.75V431.85M680.51 305.05V307.05M682.85 433.75V429.95M682.85 305.05V308.95M493.46 562.85V560.25M493.46 433.75V436.75M502.48 562.85V560.25M502.48 433.75V436.75M508.88 562.85V560.25M508.88 433.75V436.75M513.84 562.85V560.25M513.84 433.75V436.75M517.89 562.85V560.25M517.89 433.75V436.75M521.32 562.85V560.25M521.32 433.75V436.75M524.29 562.85V560.25M524.29 433.75V436.75M526.91 562.85V560.25M526.91 433.75V436.75M529.25 562.85V557.65M529.25 433.75V439.35M544.66 562.85V560.25M544.66 433.75V436.75M553.68 562.85V560.25M553.68 433.75V436.75M560.08 562.85V560.25M560.08 433.75V436.75M565.04 562.85V560.25M565.04 433.75V436.75M569.09 562.85V560.25M569.09 433.75V436.75M572.52 562.85V560.25M572.52 433.75V436.75M575.49 562.85V560.25M575.49 433.75V436.75M578.11 562.85V560.25M578.11 433.75V436.75M580.45 562.85V557.65M580.45 433.75V439.35M595.86 562.85V560.25M595.86 433.75V436.75M604.88 562.85V560.25M604.88 433.75V436.75M611.28 562.85V560.25M611.28 433.75V436.75M616.24 562.85V560.25M616.24 433.75V436.75M620.29 562.85V560.25M620.29 433.75V436.75M623.72 562.85V560.25M623.72 433.75V436.75M626.69 562.85V560.25M626.69 433.75V436.75M629.31 562.85V560.25M629.31 433.75V436.75M631.65 562.85V557.65M631.65 433.75V439.35M647.06 562.85V560.25M647.06 433.75V436.75M656.08 562.85V560.25M656.08 433.75V436.75M662.48 562.85V560.25M662.48 433.75V436.75M667.44 562.85V560.25M667.44 433.75V436.75M671.49 562.85V560.25M671.49 433.75V436.75M674.92 562.85V560.25M674.92 433.75V436.75M677.89 562.85V560.25M677.89 433.75V436.75M680.51 562.85V560.25M680.51 433.75V436.75M682.85 562.85V557.65M682.85 433.75V439.35M66.9 133H75.2M272.3 133H264M66.9 90.1H75.2M272.3 90.1H264M272.3 133H278.6M478.05 133H471.75M272.3 90.1H278.6M478.05 90.1H471.75M478.05 133H484.35M683.5 133H677.2M478.05 90.1H484.35M683.5 90.1H677.2M66.9 253.39H75.2M272.3 253.39H264M66.9 201.73H75.2M272.3 201.73H264M66.9 279.22H71M272.3 279.22H268.2M66.9 227.56H71M272.3 227.56H268.2M272.3 253.39H278.6M478.05 253.39H471.75M272.3 201.73H278.6M478.05 201.73H471.75M272.3 279.22H275.4M478.05 279.22H474.95M272.3 227.56H275.4M478.05 227.56H474.95M478.05 253.39H484.35M683.5 253.39H677.2M478.05 201.73H484.35M683.5 201.73H677.2M478.05 279.22H481.15M683.5 279.22H680.4M478.05 227.56H481.15M683.5 227.56H680.4M66.9 390.85H75.2M272.3 390.85H264M66.9 347.95H75.2M272.3 347.95H264M66.9 412.3H71M272.3 412.3H268.2M66.9 369.4H71M272.3 369.4H268.2M66.9 326.5H71M272.3 326.5H268.2M272.3 390.85H278.6M478.05 390.85H471.75M272.3 347.95H278.6M478.05 347.95H471.75M272.3 412.3H275.4M478.05 412.3H474.95M272.3 369.4H275.4M478.05 369.4H474.95M272.3 326.5H275.4M478.05 326.5H474.95M478.05 390.85H484.35M683.5 390.85H677.2M478.05 347.95H484.35M683.5 347.95H677.2M478.05 412.3H481.15M683.5 412.3H680.4M478.05 369.4H481.15M683.5 369.4H680.4M478.05 326.5H481.15M683.5 326.5H680.4M66.9 519.82H73M272.3 519.82H266.2M66.9 476.78H73M272.3 476.78H266.2M66.9 541.33H69.9M272.3 541.33H269.3M66.9 498.3H69.9M272.3 498.3H269.3M66.9 455.27H69.9M272.3 455.27H269.3M272.3 519.82H277M478.05 519.82H473.35M272.3 476.78H277M478.05 476.78H473.35M272.3 541.33H274.7M478.05 541.33H475.65M272.3 498.3H274.7M478.05 498.3H475.65M272.3 455.27H274.7M478.05 455.27H475.65M478.05 519.82H482.75M683.5 519.82H678.8M478.05 476.78H482.75M683.5 476.78H678.8M478.05 541.33H480.45M683.5 541.33H681.1M478.05 498.3H480.45M683.5 498.3H681.1M478.05 455.27H480.45M683.5 455.27H681.1" stroke="#000" stroke-width="1.3" fill="none"/>
<path d="M82.31 47.2V49.5M91.33 47.2V49.5M97.73 47.2V49.5M102.69 47.2V49.5M106.74 47.2V49.5M110.17 47.2V49.5M113.14 47.2V49.5M115.76 47.2V49.5M118.1 47.2V51.2M133.51 47.2V49.5M142.53 47.2V49.5M148.93 47.2V49.5M153.89 47.2V49.5M157.94 47.2V49.5M161.37 47.2V49.5M164.34 47.2V49.5M166.96 47.2V49.5M169.3 47.2V51.2M184.71 47.2V49.5M193.73 47.2V49.5M200.13 47.2V49.5M205.09 47.2V49.5M209.14 47.2V49.5M212.57 47.2V49.5M215.54 47.2V49.5M218.16 47.2V49.5M220.5 47.2V51.2M235.91 47.2V49.5M244.93 47.2V49.5M251.33 47.2V49.5M256.29 47.2V49.5M260.34 47.2V49.5M263.77 47.2V49.5M266.74 47.2V49.5M269.36 47.2V49.5M271.7 47.2V51.2M287.71 47.2V49.5M296.73 47.2V49.5M303.13 47.2V49.5M308.09 47.2V49.5M312.14 47.2V49.5M315.57 47.2V49.5M318.54 47.2V49.5M321.16 47.2V49.5M323.5 47.2V51.2M338.91 47.2V49.5M347.93 47.2V49.5M354.33 47.2V49.5M359.29 47.2V49.5M363.34 47.2V49.5M366.77 47.2V49.5M369.74 47.2V49.5M372.36 47.2V49.5M374.7 47.2V51.2M390.11 47.2V49.5M399.13 47.2V49.5M405.53 47.2V49.5M410.49 47.2V49.5M414.54 47.2V49.5M417.97 47.2V49.5M420.94 47.2V49.5M423.56 47.2V49.5M425.9 47.2V51.2M441.31 47.2V49.5M450.33 47.2V49.5M456.73 47.2V49.5M461.69 47.2V49.5M465.74 47.2V49.5M469.17 47.2V49.5M472.14 47.2V49.5M474.76 47.2V49.5M477.1 47.2V51.2M493.46 47.2V49.5M502.48 47.2V49.5M508.88 47.2V49.5M513.84 47.2V49.5M517.89 47.2V49.5M521.32 47.2V49.5M524.29 47.2V49.5M526.91 47.2V49.5M529.25 47.2V51.2M544.66 47.2V49.5M553.68 47.2V49.5M560.08 47.2V49.5M565.04 47.2V49.5M569.09 47.2V49.5M572.52 47.2V49.5M575.49 47.2V49.5M578.11 47.2V49.5M580.45 47.2V51.2M595.86 47.2V49.5M604.88 47.2V49.5M611.28 47.2V49.5M616.24 47.2V49.5M620.29 47.2V49.5M623.72 47.2V49.5M626.69 47.2V49.5M629.31 47.2V49.5M631.65 47.2V51.2M647.06 47.2V49.5M656.08 47.2V49.5M662.48 47.2V49.5M667.44 47.2V49.5M671.49 47.2V49.5M674.92 47.2V49.5M677.89 47.2V49.5M680.51 47.2V49.5M682.85 47.2V51.2" stroke="#000" stroke-width="0.95" fill="none"/>
<path d="M124 154.5V165.9M119.3 154.5H128.7M119.3 165.9H128.7M336.4 125.4V144.7M331.7 130.1H341.1M331.7 140.3H341.1M535.1 114.9V133.3M530.4 117.9H539.8M530.4 132.7H539.8M553.7 135V148.2M549 136.8H558.4M549 146.6H558.4M569.5 243.5V258.4M564.8 245.3H574.2M564.8 258H574.2M575.3 261.3V270.3M606.3 287V299.6M601.6 287H611M601.6 299.6H611M618.6 279.4V301M613.9 283.4H623.3M613.9 297H623.3M176.8 371.6V384.4M172.1 373.4H181.5M172.1 383H181.5M390.5 365.1V379.5M385.8 367.2H395.2M385.8 377.4H395.2M413.1 399.6V414.2M408.4 399.6H417.8M408.4 414.2H417.8M426.4 390.2V413.7M421.7 392.8H431.1M421.7 411.2H431.1M616.3 370V380.9M637.7 401.5V413.5M241.3 519.2V547.7M236.6 523.5H246M236.6 543.2H246M432.2 522.2V533.4M427.5 523.2H436.9M427.5 532.3H436.9M668.1 548V557.7M663.4 548.3H672.8M663.4 555.3H672.8" stroke="#000" stroke-width="1.4" fill="none"/>
<g fill="#000"><circle cx="124" cy="160.1" r="4.0"/><circle cx="336.4" cy="135" r="4.0"/><circle cx="535.1" cy="125" r="4.0"/><circle cx="553.7" cy="141.5" r="4.0"/><circle cx="144" cy="286.5" r="4.0"/><circle cx="164.4" cy="294.5" r="4.0"/><circle cx="178.5" cy="301" r="4.0"/><circle cx="369.9" cy="284" r="4.0"/><circle cx="569.5" cy="251.7" r="4.0"/><circle cx="575.3" cy="265.9" r="4.0"/><circle cx="587.9" cy="276.3" r="4.0"/><circle cx="600.2" cy="284.1" r="4.0"/><circle cx="606.3" cy="293.4" r="4.0"/><circle cx="618.6" cy="290.4" r="4.0"/><circle cx="176.8" cy="378.1" r="4.0"/><circle cx="184.7" cy="397.9" r="4.0"/><circle cx="195.2" cy="413.1" r="4.0"/><circle cx="205.1" cy="406.1" r="4.0"/><circle cx="390.5" cy="372.5" r="4.0"/><circle cx="413.1" cy="407.2" r="4.0"/><circle cx="426.4" cy="402.3" r="4.0"/><circle cx="616.3" cy="375.3" r="4.0"/><circle cx="637.7" cy="407.3" r="4.0"/><circle cx="241.3" cy="533.5" r="4.0"/><circle cx="432.2" cy="527.6" r="4.0"/><circle cx="452.2" cy="540.7" r="4.0"/><circle cx="668.1" cy="551.8" r="4.0"/></g>
<text transform="translate(76.2,67.6) scale(1,0.96)" font-size="14.3">Q<tspan dy="-6.8" font-size="9.4">2</tspan><tspan dy="6.8"> = 2.5 GeV</tspan><tspan dy="-6.8" font-size="9.4">2</tspan></text>
<text transform="translate(281.6,67.6) scale(1,0.96)" font-size="14.3">Q<tspan dy="-6.8" font-size="9.4">2</tspan><tspan dy="6.8"> = 5 GeV</tspan><tspan dy="-6.8" font-size="9.4">2</tspan></text>
<text transform="translate(487.35,67.6) scale(1,0.96)" font-size="14.3">Q<tspan dy="-6.8" font-size="9.4">2</tspan><tspan dy="6.8"> = 7 GeV</tspan><tspan dy="-6.8" font-size="9.4">2</tspan></text>
<text transform="translate(76.2,196.9) scale(1,0.96)" font-size="14.3">Q<tspan dy="-6.8" font-size="9.4">2</tspan><tspan dy="6.8"> = 12 GeV</tspan><tspan dy="-6.8" font-size="9.4">2</tspan></text>
<text transform="translate(281.6,196.9) scale(1,0.96)" font-size="14.3">Q<tspan dy="-6.8" font-size="9.4">2</tspan><tspan dy="6.8"> = 18 GeV</tspan><tspan dy="-6.8" font-size="9.4">2</tspan></text>
<text transform="translate(487.35,196.9) scale(1,0.96)" font-size="14.3">Q<tspan dy="-6.8" font-size="9.4">2</tspan><tspan dy="6.8"> = 32 GeV</tspan><tspan dy="-6.8" font-size="9.4">2</tspan></text>
<text transform="translate(76.2,325.9) scale(1,0.96)" font-size="14.3">Q<tspan dy="-6.8" font-size="9.4">2</tspan><tspan dy="6.8"> = 60 GeV</tspan><tspan dy="-6.8" font-size="9.4">2</tspan></text>
<text transform="translate(281.6,325.9) scale(1,0.96)" font-size="14.3">Q<tspan dy="-6.8" font-size="9.4">2</tspan><tspan dy="6.8"> = 120 GeV</tspan><tspan dy="-6.8" font-size="9.4">2</tspan></text>
<text transform="translate(487.35,325.9) scale(1,0.96)" font-size="14.3">Q<tspan dy="-6.8" font-size="9.4">2</tspan><tspan dy="6.8"> = 200 GeV</tspan><tspan dy="-6.8" font-size="9.4">2</tspan></text>
<text transform="translate(76.2,457.6) scale(1,0.96)" font-size="14.3">Q<tspan dy="-6.8" font-size="9.4">2</tspan><tspan dy="6.8"> = 350 GeV</tspan><tspan dy="-6.8" font-size="9.4">2</tspan></text>
<text transform="translate(281.6,457.6) scale(1,0.96)" font-size="14.3">Q<tspan dy="-6.8" font-size="9.4">2</tspan><tspan dy="6.8"> = 650 GeV</tspan><tspan dy="-6.8" font-size="9.4">2</tspan></text>
<text transform="translate(487.35,457.6) scale(1,0.96)" font-size="14.3">Q<tspan dy="-6.8" font-size="9.4">2</tspan><tspan dy="6.8"> = 2000 GeV</tspan><tspan dy="-6.8" font-size="9.4">2</tspan></text>
<text transform="translate(60.4,97.1) scale(1,1.03)" font-size="15.1" text-anchor="end">0.01</text>
<text transform="translate(60.4,140) scale(1,1.03)" font-size="15.1" text-anchor="end">0.005</text>
<text transform="translate(60.4,208.73) scale(1,1.03)" font-size="15.1" text-anchor="end">0.04</text>
<text transform="translate(60.4,260.39) scale(1,1.03)" font-size="15.1" text-anchor="end">0.02</text>
<text transform="translate(60.4,354.95) scale(1,1.03)" font-size="15.1" text-anchor="end">0.04</text>
<text transform="translate(60.4,397.85) scale(1,1.03)" font-size="15.1" text-anchor="end">0.02</text>
<text transform="translate(60.4,483.78) scale(1,1.03)" font-size="15.1" text-anchor="end">0.04</text>
<text transform="translate(60.4,526.82) scale(1,1.03)" font-size="15.1" text-anchor="end">0.02</text>
<text transform="translate(103.4,587.5) scale(1,1.05)" font-size="15.2">10<tspan dy="-6.7" font-size="9.6">-4</tspan></text>
<text transform="translate(154.6,587.5) scale(1,1.05)" font-size="15.2">10<tspan dy="-6.7" font-size="9.6">-3</tspan></text>
<text transform="translate(205.8,587.5) scale(1,1.05)" font-size="15.2">10<tspan dy="-6.7" font-size="9.6">-2</tspan></text>
<text transform="translate(308.8,587.5) scale(1,1.05)" font-size="15.2">10<tspan dy="-6.7" font-size="9.6">-4</tspan></text>
<text transform="translate(360,587.5) scale(1,1.05)" font-size="15.2">10<tspan dy="-6.7" font-size="9.6">-3</tspan></text>
<text transform="translate(411.2,587.5) scale(1,1.05)" font-size="15.2">10<tspan dy="-6.7" font-size="9.6">-2</tspan></text>
<text transform="translate(514.55,587.5) scale(1,1.05)" font-size="15.2">10<tspan dy="-6.7" font-size="9.6">-4</tspan></text>
<text transform="translate(565.75,587.5) scale(1,1.05)" font-size="15.2">10<tspan dy="-6.7" font-size="9.6">-3</tspan></text>
<text transform="translate(616.95,587.5) scale(1,1.05)" font-size="15.2">10<tspan dy="-6.7" font-size="9.6">-2</tspan></text>
<circle cx="93" cy="8.4" r="3.8" fill="#000"/>
<text transform="translate(119,13.9) scale(1,1.07)" font-size="14.7">HERA</text>
<path d="M74.4 29.4H111" stroke="#ff00ff" stroke-width="3" stroke-dasharray="1.9 2.92" fill="none"/>
<text transform="translate(119,33.9) scale(1,1.07)" font-size="14.75">NLO ABMP16</text>
<rect x="239.9" y="0.4" width="36.8" height="15.2" fill="#aabac6"/>
<path d="M239.9 8.3H276.7" stroke="#1a1aff" stroke-width="1.5" fill="none"/>
<text transform="translate(283.8,12.8) scale(1,1.01)" font-size="14.8">NLO HERAPDF2.0 FF3A</text>
<path d="M239.9 29.2H276" stroke="#ff0000" stroke-width="3.2" stroke-dasharray="5.1 6.5 1.8 5.9" fill="none"/>
<text transform="translate(284,32.4) scale(1,1)" font-size="14.9">appr. NNLO ABMP16</text>
<text transform="translate(551.4,33.8) scale(1,0.96)" font-size="20.05">H1 and ZEUS</text>
<text x="660.5" y="598.6" font-size="18.3">x<tspan dy="5.2" font-size="12.1">Bj</tspan></text>
<g transform="translate(18,74.8) rotate(-90)">
<text x="0" y="0" font-size="18" style="font-weight:normal;stroke:none">σ</text>
<text transform="translate(13.2,-6.1) scale(1,1.04)" font-size="11.8">bb</text>
<rect x="20.0" y="-18" width="7.4" height="2.05" fill="#000"/>
<text transform="translate(12.8,6.4) scale(1,1.03)" font-size="12.2">red</text>
</g>
</svg></body></html>
